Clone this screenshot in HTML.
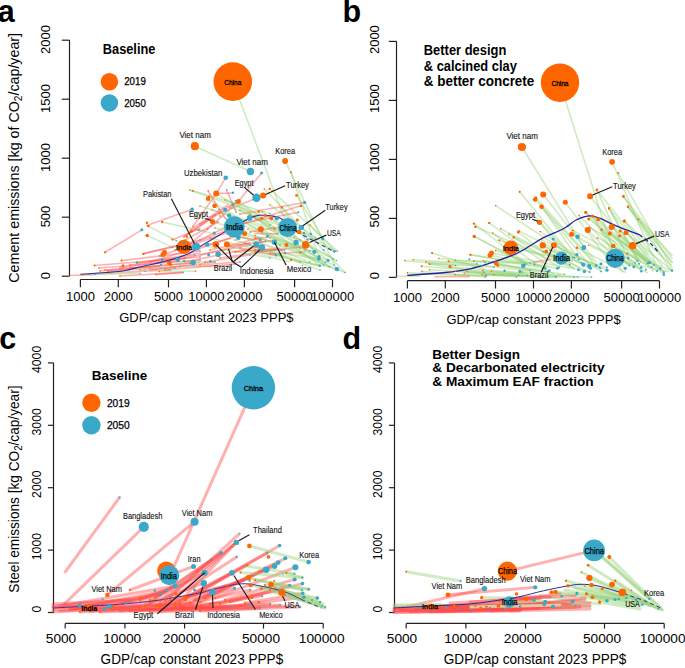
<!DOCTYPE html>
<html><head><meta charset="utf-8"><style>
html,body{margin:0;padding:0;background:#fff;}
svg{display:block;}
text{font-family:"Liberation Sans",sans-serif;}
</style></head><body>
<svg width="685" height="668" viewBox="0 0 685 668">
<rect width="685" height="668" fill="#fff"/>
<line x1="69.5" y1="276.2" x2="69.5" y2="40.0" stroke="#222" stroke-width="1.2" />
<line x1="61.8" y1="276.2" x2="69.5" y2="276.2" stroke="#222" stroke-width="1.2" />
<text x="50.1" y="275.5" font-size="13" font-family="Liberation Sans, sans-serif" font-weight="normal" text-anchor="middle" transform="rotate(-90 50.1 275.5)" fill="#000">0</text>
<line x1="61.8" y1="217.2" x2="69.5" y2="217.2" stroke="#222" stroke-width="1.2" />
<text x="50.1" y="216.5" font-size="13" font-family="Liberation Sans, sans-serif" font-weight="normal" text-anchor="middle" transform="rotate(-90 50.1 216.5)" fill="#000">500</text>
<line x1="61.8" y1="158.2" x2="69.5" y2="158.2" stroke="#222" stroke-width="1.2" />
<text x="50.1" y="157.5" font-size="13" font-family="Liberation Sans, sans-serif" font-weight="normal" text-anchor="middle" transform="rotate(-90 50.1 157.5)" fill="#000">1000</text>
<line x1="61.8" y1="99.2" x2="69.5" y2="99.2" stroke="#222" stroke-width="1.2" />
<text x="50.1" y="98.5" font-size="13" font-family="Liberation Sans, sans-serif" font-weight="normal" text-anchor="middle" transform="rotate(-90 50.1 98.5)" fill="#000">1500</text>
<line x1="61.8" y1="40.2" x2="69.5" y2="40.2" stroke="#222" stroke-width="1.2" />
<text x="50.1" y="39.5" font-size="13" font-family="Liberation Sans, sans-serif" font-weight="normal" text-anchor="middle" transform="rotate(-90 50.1 39.5)" fill="#000">2000</text>
<line x1="80.4" y1="279.5" x2="332.5" y2="279.5" stroke="#222" stroke-width="1.2" />
<line x1="80.4" y1="279.5" x2="80.4" y2="287.3" stroke="#222" stroke-width="1.2" />
<text x="80.4" y="301.1" font-size="13" font-family="Liberation Sans, sans-serif" font-weight="normal" text-anchor="middle" fill="#000">1000</text>
<line x1="118.3" y1="279.5" x2="118.3" y2="287.3" stroke="#222" stroke-width="1.2" />
<text x="118.3" y="301.1" font-size="13" font-family="Liberation Sans, sans-serif" font-weight="normal" text-anchor="middle" fill="#000">2000</text>
<line x1="168.5" y1="279.5" x2="168.5" y2="287.3" stroke="#222" stroke-width="1.2" />
<text x="168.5" y="301.1" font-size="13" font-family="Liberation Sans, sans-serif" font-weight="normal" text-anchor="middle" fill="#000">5000</text>
<line x1="206.4" y1="279.5" x2="206.4" y2="287.3" stroke="#222" stroke-width="1.2" />
<text x="206.4" y="301.1" font-size="13" font-family="Liberation Sans, sans-serif" font-weight="normal" text-anchor="middle" fill="#000">10000</text>
<line x1="244.4" y1="279.5" x2="244.4" y2="287.3" stroke="#222" stroke-width="1.2" />
<text x="244.4" y="301.1" font-size="13" font-family="Liberation Sans, sans-serif" font-weight="normal" text-anchor="middle" fill="#000">20000</text>
<line x1="294.6" y1="279.5" x2="294.6" y2="287.3" stroke="#222" stroke-width="1.2" />
<text x="294.6" y="301.1" font-size="13" font-family="Liberation Sans, sans-serif" font-weight="normal" text-anchor="middle" fill="#000">50000</text>
<line x1="332.5" y1="279.5" x2="332.5" y2="287.3" stroke="#222" stroke-width="1.2" />
<text x="332.5" y="301.1" font-size="13" font-family="Liberation Sans, sans-serif" font-weight="normal" text-anchor="middle" fill="#000">100000</text>
<text x="206.4" y="322.3" font-size="13.5" font-family="Liberation Sans, sans-serif" font-weight="normal" text-anchor="middle" textLength="174.2" lengthAdjust="spacingAndGlyphs" fill="#000">GDP/cap constant 2023 PPP$</text>
<line x1="396.5" y1="277.4" x2="396.5" y2="41.2" stroke="#222" stroke-width="1.2" />
<line x1="388.8" y1="277.4" x2="396.5" y2="277.4" stroke="#222" stroke-width="1.2" />
<text x="379.1" y="275.6" font-size="13" font-family="Liberation Sans, sans-serif" font-weight="normal" text-anchor="middle" transform="rotate(-90 379.1 275.6)" fill="#000">0</text>
<line x1="388.8" y1="218.4" x2="396.5" y2="218.4" stroke="#222" stroke-width="1.2" />
<text x="379.1" y="216.6" font-size="13" font-family="Liberation Sans, sans-serif" font-weight="normal" text-anchor="middle" transform="rotate(-90 379.1 216.6)" fill="#000">500</text>
<line x1="388.8" y1="159.4" x2="396.5" y2="159.4" stroke="#222" stroke-width="1.2" />
<text x="379.1" y="157.6" font-size="13" font-family="Liberation Sans, sans-serif" font-weight="normal" text-anchor="middle" transform="rotate(-90 379.1 157.6)" fill="#000">1000</text>
<line x1="388.8" y1="100.4" x2="396.5" y2="100.4" stroke="#222" stroke-width="1.2" />
<text x="379.1" y="98.6" font-size="13" font-family="Liberation Sans, sans-serif" font-weight="normal" text-anchor="middle" transform="rotate(-90 379.1 98.6)" fill="#000">1500</text>
<line x1="388.8" y1="41.4" x2="396.5" y2="41.4" stroke="#222" stroke-width="1.2" />
<text x="379.1" y="39.6" font-size="13" font-family="Liberation Sans, sans-serif" font-weight="normal" text-anchor="middle" transform="rotate(-90 379.1 39.6)" fill="#000">2000</text>
<line x1="407.4" y1="280.7" x2="659.5" y2="280.7" stroke="#222" stroke-width="1.2" />
<line x1="407.4" y1="280.7" x2="407.4" y2="288.5" stroke="#222" stroke-width="1.2" />
<text x="407.4" y="302.3" font-size="13" font-family="Liberation Sans, sans-serif" font-weight="normal" text-anchor="middle" fill="#000">1000</text>
<line x1="445.3" y1="280.7" x2="445.3" y2="288.5" stroke="#222" stroke-width="1.2" />
<text x="445.3" y="302.3" font-size="13" font-family="Liberation Sans, sans-serif" font-weight="normal" text-anchor="middle" fill="#000">2000</text>
<line x1="495.5" y1="280.7" x2="495.5" y2="288.5" stroke="#222" stroke-width="1.2" />
<text x="495.5" y="302.3" font-size="13" font-family="Liberation Sans, sans-serif" font-weight="normal" text-anchor="middle" fill="#000">5000</text>
<line x1="533.5" y1="280.7" x2="533.5" y2="288.5" stroke="#222" stroke-width="1.2" />
<text x="533.5" y="302.3" font-size="13" font-family="Liberation Sans, sans-serif" font-weight="normal" text-anchor="middle" fill="#000">10000</text>
<line x1="571.4" y1="280.7" x2="571.4" y2="288.5" stroke="#222" stroke-width="1.2" />
<text x="571.4" y="302.3" font-size="13" font-family="Liberation Sans, sans-serif" font-weight="normal" text-anchor="middle" fill="#000">20000</text>
<line x1="621.6" y1="280.7" x2="621.6" y2="288.5" stroke="#222" stroke-width="1.2" />
<text x="621.6" y="302.3" font-size="13" font-family="Liberation Sans, sans-serif" font-weight="normal" text-anchor="middle" fill="#000">50000</text>
<line x1="659.5" y1="280.7" x2="659.5" y2="288.5" stroke="#222" stroke-width="1.2" />
<text x="659.5" y="302.3" font-size="13" font-family="Liberation Sans, sans-serif" font-weight="normal" text-anchor="middle" fill="#000">100000</text>
<text x="533.5" y="323.5" font-size="13.5" font-family="Liberation Sans, sans-serif" font-weight="normal" text-anchor="middle" textLength="174.2" lengthAdjust="spacingAndGlyphs" fill="#000">GDP/cap constant 2023 PPP$</text>
<line x1="53.5" y1="612.5" x2="53.5" y2="362.9" stroke="#222" stroke-width="1.2" />
<line x1="47.9" y1="612.5" x2="53.5" y2="612.5" stroke="#222" stroke-width="1.2" />
<text x="40.9" y="609.0" font-size="12.3" font-family="Liberation Sans, sans-serif" font-weight="normal" text-anchor="middle" transform="rotate(-90 40.9 609.0)" fill="#000">0</text>
<line x1="47.9" y1="550.1" x2="53.5" y2="550.1" stroke="#222" stroke-width="1.2" />
<text x="40.9" y="546.6" font-size="12.3" font-family="Liberation Sans, sans-serif" font-weight="normal" text-anchor="middle" transform="rotate(-90 40.9 546.6)" fill="#000">1000</text>
<line x1="47.9" y1="487.7" x2="53.5" y2="487.7" stroke="#222" stroke-width="1.2" />
<text x="40.9" y="484.2" font-size="12.3" font-family="Liberation Sans, sans-serif" font-weight="normal" text-anchor="middle" transform="rotate(-90 40.9 484.2)" fill="#000">2000</text>
<line x1="47.9" y1="425.3" x2="53.5" y2="425.3" stroke="#222" stroke-width="1.2" />
<text x="40.9" y="421.8" font-size="12.3" font-family="Liberation Sans, sans-serif" font-weight="normal" text-anchor="middle" transform="rotate(-90 40.9 421.8)" fill="#000">3000</text>
<line x1="47.9" y1="362.9" x2="53.5" y2="362.9" stroke="#222" stroke-width="1.2" />
<text x="40.9" y="359.4" font-size="12.3" font-family="Liberation Sans, sans-serif" font-weight="normal" text-anchor="middle" transform="rotate(-90 40.9 359.4)" fill="#000">4000</text>
<line x1="65.2" y1="623.4" x2="323.2" y2="623.4" stroke="#222" stroke-width="1.2" />
<line x1="65.2" y1="623.4" x2="65.2" y2="628.6" stroke="#222" stroke-width="1.2" />
<text x="61.0" y="643.2" font-size="13.7" font-family="Liberation Sans, sans-serif" font-weight="normal" text-anchor="middle" fill="#000">5000</text>
<line x1="124.9" y1="623.4" x2="124.9" y2="628.6" stroke="#222" stroke-width="1.2" />
<text x="122.2" y="643.2" font-size="13.7" font-family="Liberation Sans, sans-serif" font-weight="normal" text-anchor="middle" fill="#000">10000</text>
<line x1="184.6" y1="623.4" x2="184.6" y2="628.6" stroke="#222" stroke-width="1.2" />
<text x="181.9" y="643.2" font-size="13.7" font-family="Liberation Sans, sans-serif" font-weight="normal" text-anchor="middle" fill="#000">20000</text>
<line x1="263.5" y1="623.4" x2="263.5" y2="628.6" stroke="#222" stroke-width="1.2" />
<text x="261.0" y="643.2" font-size="13.7" font-family="Liberation Sans, sans-serif" font-weight="normal" text-anchor="middle" fill="#000">50000</text>
<line x1="323.2" y1="623.4" x2="323.2" y2="628.6" stroke="#222" stroke-width="1.2" />
<text x="321.7" y="643.2" font-size="13.7" font-family="Liberation Sans, sans-serif" font-weight="normal" text-anchor="middle" fill="#000">100000</text>
<text x="191.9" y="664.3" font-size="14" font-family="Liberation Sans, sans-serif" font-weight="normal" text-anchor="middle" textLength="182.6" lengthAdjust="spacingAndGlyphs" fill="#000">GDP/cap constant 2023 PPP$</text>
<line x1="394.5" y1="612.5" x2="394.5" y2="362.9" stroke="#222" stroke-width="1.2" />
<line x1="388.9" y1="612.5" x2="394.5" y2="612.5" stroke="#222" stroke-width="1.2" />
<text x="381.9" y="609.0" font-size="12.3" font-family="Liberation Sans, sans-serif" font-weight="normal" text-anchor="middle" transform="rotate(-90 381.9 609.0)" fill="#000">0</text>
<line x1="388.9" y1="550.1" x2="394.5" y2="550.1" stroke="#222" stroke-width="1.2" />
<text x="381.9" y="546.6" font-size="12.3" font-family="Liberation Sans, sans-serif" font-weight="normal" text-anchor="middle" transform="rotate(-90 381.9 546.6)" fill="#000">1000</text>
<line x1="388.9" y1="487.7" x2="394.5" y2="487.7" stroke="#222" stroke-width="1.2" />
<text x="381.9" y="484.2" font-size="12.3" font-family="Liberation Sans, sans-serif" font-weight="normal" text-anchor="middle" transform="rotate(-90 381.9 484.2)" fill="#000">2000</text>
<line x1="388.9" y1="425.3" x2="394.5" y2="425.3" stroke="#222" stroke-width="1.2" />
<text x="381.9" y="421.8" font-size="12.3" font-family="Liberation Sans, sans-serif" font-weight="normal" text-anchor="middle" transform="rotate(-90 381.9 421.8)" fill="#000">3000</text>
<line x1="388.9" y1="362.9" x2="394.5" y2="362.9" stroke="#222" stroke-width="1.2" />
<text x="381.9" y="359.4" font-size="12.3" font-family="Liberation Sans, sans-serif" font-weight="normal" text-anchor="middle" transform="rotate(-90 381.9 359.4)" fill="#000">4000</text>
<line x1="406.2" y1="623.4" x2="664.2" y2="623.4" stroke="#222" stroke-width="1.2" />
<line x1="406.2" y1="623.4" x2="406.2" y2="628.6" stroke="#222" stroke-width="1.2" />
<text x="402.0" y="643.2" font-size="13.7" font-family="Liberation Sans, sans-serif" font-weight="normal" text-anchor="middle" fill="#000">5000</text>
<line x1="465.9" y1="623.4" x2="465.9" y2="628.6" stroke="#222" stroke-width="1.2" />
<text x="463.2" y="643.2" font-size="13.7" font-family="Liberation Sans, sans-serif" font-weight="normal" text-anchor="middle" fill="#000">10000</text>
<line x1="525.6" y1="623.4" x2="525.6" y2="628.6" stroke="#222" stroke-width="1.2" />
<text x="522.9" y="643.2" font-size="13.7" font-family="Liberation Sans, sans-serif" font-weight="normal" text-anchor="middle" fill="#000">20000</text>
<line x1="604.5" y1="623.4" x2="604.5" y2="628.6" stroke="#222" stroke-width="1.2" />
<text x="602.0" y="643.2" font-size="13.7" font-family="Liberation Sans, sans-serif" font-weight="normal" text-anchor="middle" fill="#000">50000</text>
<line x1="664.2" y1="623.4" x2="664.2" y2="628.6" stroke="#222" stroke-width="1.2" />
<text x="662.7" y="643.2" font-size="13.7" font-family="Liberation Sans, sans-serif" font-weight="normal" text-anchor="middle" fill="#000">100000</text>
<text x="535.1" y="664.3" font-size="14" font-family="Liberation Sans, sans-serif" font-weight="normal" text-anchor="middle" textLength="182.6" lengthAdjust="spacingAndGlyphs" fill="#000">GDP/cap constant 2023 PPP$</text>
<text x="19.4" y="157.8" font-size="14" font-family="Liberation Sans, sans-serif" text-anchor="middle" transform="rotate(-90 19.4 157.8)" textLength="249.8" lengthAdjust="spacingAndGlyphs">Cement emissions [kg of CO<tspan font-size="10" dy="3">2</tspan><tspan dy="-3">/cap/year]</tspan></text>
<text x="19.2" y="489.1" font-size="14" font-family="Liberation Sans, sans-serif" text-anchor="middle" transform="rotate(-90 19.2 489.1)" textLength="207.2" lengthAdjust="spacingAndGlyphs">Steel emissions [kg CO<tspan font-size="10" dy="3">2</tspan><tspan dy="-3">/cap/year]</tspan></text>
<text x="-2.2" y="22.0" font-size="30.5" font-family="Liberation Sans, sans-serif" font-weight="bold" text-anchor="start" fill="#000">a</text>
<text x="342.4" y="21.7" font-size="30.5" font-family="Liberation Sans, sans-serif" font-weight="bold" text-anchor="start" fill="#000">b</text>
<text x="-0.8" y="349.3" font-size="30.5" font-family="Liberation Sans, sans-serif" font-weight="bold" text-anchor="start" fill="#000">c</text>
<text x="342.6" y="348.8" font-size="30.5" font-family="Liberation Sans, sans-serif" font-weight="bold" text-anchor="start" fill="#000">d</text>
<text x="102.8" y="54.2" font-size="14" font-family="Liberation Sans, sans-serif" font-weight="bold" text-anchor="start" textLength="52.6" lengthAdjust="spacingAndGlyphs" fill="#000">Baseline</text>
<circle cx="109.4" cy="81.7" r="8.75" fill="#FF6600"/>
<circle cx="109.4" cy="102.9" r="8.75" fill="#3AA8C8"/>
<text x="124.2" y="85.1" font-size="10.1" font-family="Liberation Sans, sans-serif" font-weight="normal" text-anchor="start" textLength="21.6" lengthAdjust="spacingAndGlyphs" fill="#000" stroke="#000" stroke-width="0.25">2019</text>
<text x="124.2" y="106.6" font-size="10.1" font-family="Liberation Sans, sans-serif" font-weight="normal" text-anchor="start" textLength="21.6" lengthAdjust="spacingAndGlyphs" fill="#000" stroke="#000" stroke-width="0.25">2050</text>
<text x="423.8" y="55.2" font-size="14" font-family="Liberation Sans, sans-serif" font-weight="bold" text-anchor="start" textLength="82.5" lengthAdjust="spacingAndGlyphs" fill="#000">Better design</text>
<text x="423.8" y="70.5" font-size="14" font-family="Liberation Sans, sans-serif" font-weight="bold" text-anchor="start" textLength="93.0" lengthAdjust="spacingAndGlyphs" fill="#000">&amp; calcined clay</text>
<text x="423.8" y="85.8" font-size="14" font-family="Liberation Sans, sans-serif" font-weight="bold" text-anchor="start" textLength="110.5" lengthAdjust="spacingAndGlyphs" fill="#000">&amp; better concrete</text>
<text x="91.8" y="379.7" font-size="13" font-family="Liberation Sans, sans-serif" font-weight="bold" text-anchor="start" textLength="55.5" lengthAdjust="spacingAndGlyphs" fill="#000">Baseline</text>
<circle cx="91.4" cy="402.8" r="9.20" fill="#FF6600"/>
<circle cx="91.4" cy="425.3" r="9.20" fill="#3AA8C8"/>
<text x="106.9" y="406.7" font-size="10.2" font-family="Liberation Sans, sans-serif" font-weight="normal" text-anchor="start" textLength="22.8" lengthAdjust="spacingAndGlyphs" fill="#000" stroke="#000" stroke-width="0.25">2019</text>
<text x="106.9" y="428.9" font-size="10.2" font-family="Liberation Sans, sans-serif" font-weight="normal" text-anchor="start" textLength="22.8" lengthAdjust="spacingAndGlyphs" fill="#000" stroke="#000" stroke-width="0.25">2050</text>
<text x="432.3" y="359.0" font-size="12.5" font-family="Liberation Sans, sans-serif" font-weight="bold" text-anchor="start" textLength="87.8" lengthAdjust="spacingAndGlyphs" fill="#000">Better Design</text>
<text x="432.3" y="372.3" font-size="12.5" font-family="Liberation Sans, sans-serif" font-weight="bold" text-anchor="start" textLength="172.2" lengthAdjust="spacingAndGlyphs" fill="#000">&amp; Decarbonated electricity</text>
<text x="432.3" y="385.8" font-size="12.5" font-family="Liberation Sans, sans-serif" font-weight="bold" text-anchor="start" textLength="161.4" lengthAdjust="spacingAndGlyphs" fill="#000">&amp; Maximum EAF fraction</text>
<line x1="232.8" y1="81.6" x2="287.7" y2="227.5" stroke="rgba(150,210,120,0.45)" stroke-width="1.6" stroke-linecap="round"/>
<line x1="194.9" y1="146.2" x2="250.4" y2="171.5" stroke="rgba(150,210,120,0.45)" stroke-width="1.6" stroke-linecap="round"/>
<line x1="285.1" y1="160.7" x2="336.2" y2="268.4" stroke="rgba(150,210,120,0.45)" stroke-width="1.6" stroke-linecap="round"/>
<line x1="216.2" y1="193.6" x2="225.7" y2="177.8" stroke="rgba(255,70,70,0.42)" stroke-width="1.6" stroke-linecap="round"/>
<line x1="193.0" y1="226.5" x2="216.2" y2="193.6" stroke="rgba(255,70,70,0.42)" stroke-width="1.6" stroke-linecap="round"/>
<line x1="261.7" y1="173.0" x2="238.3" y2="201.4" stroke="rgba(255,70,70,0.42)" stroke-width="1.6" stroke-linecap="round"/>
<line x1="238.3" y1="201.4" x2="207.6" y2="229.1" stroke="rgba(255,70,70,0.42)" stroke-width="1.6" stroke-linecap="round"/>
<line x1="207.6" y1="229.1" x2="190.0" y2="244.0" stroke="rgba(255,70,70,0.42)" stroke-width="1.6" stroke-linecap="round"/>
<line x1="252.9" y1="199.6" x2="219.4" y2="213.4" stroke="rgba(255,70,70,0.42)" stroke-width="1.6" stroke-linecap="round"/>
<line x1="219.4" y1="213.4" x2="185.0" y2="236.0" stroke="rgba(255,70,70,0.42)" stroke-width="1.6" stroke-linecap="round"/>
<line x1="105.1" y1="252.3" x2="141.9" y2="229.9" stroke="rgba(255,70,70,0.42)" stroke-width="1.6" stroke-linecap="round"/>
<line x1="146.9" y1="225.5" x2="191.5" y2="209.4" stroke="rgba(255,70,70,0.42)" stroke-width="1.6" stroke-linecap="round"/>
<line x1="162.4" y1="222.1" x2="200.0" y2="230.3" stroke="rgba(150,210,120,0.45)" stroke-width="1.6" stroke-linecap="round"/>
<line x1="200.0" y1="230.3" x2="215.0" y2="234.0" stroke="rgba(150,210,120,0.45)" stroke-width="1.6" stroke-linecap="round"/>
<line x1="147.8" y1="225.9" x2="176.3" y2="240.7" stroke="rgba(150,210,120,0.45)" stroke-width="1.6" stroke-linecap="round"/>
<line x1="147.4" y1="235.6" x2="172.5" y2="247.4" stroke="rgba(150,210,120,0.45)" stroke-width="1.6" stroke-linecap="round"/>
<line x1="192.7" y1="190.8" x2="270.0" y2="213.4" stroke="rgba(150,210,120,0.45)" stroke-width="1.6" stroke-linecap="round"/>
<line x1="216.1" y1="193.6" x2="270.0" y2="225.0" stroke="rgba(150,210,120,0.45)" stroke-width="1.6" stroke-linecap="round"/>
<line x1="208.0" y1="199.0" x2="262.0" y2="232.0" stroke="rgba(150,210,120,0.45)" stroke-width="1.6" stroke-linecap="round"/>
<line x1="70.0" y1="275.5" x2="95.0" y2="274.5" stroke="rgba(255,70,70,0.42)" stroke-width="1.6" stroke-linecap="round"/>
<line x1="94.3" y1="265.5" x2="200.0" y2="257.0" stroke="rgba(255,70,70,0.42)" stroke-width="1.6" stroke-linecap="round"/>
<line x1="99.0" y1="268.0" x2="200.0" y2="260.0" stroke="rgba(255,70,70,0.42)" stroke-width="1.6" stroke-linecap="round"/>
<line x1="105.0" y1="270.0" x2="190.0" y2="263.5" stroke="rgba(255,70,70,0.42)" stroke-width="1.6" stroke-linecap="round"/>
<line x1="107.7" y1="271.0" x2="180.0" y2="266.5" stroke="rgba(255,70,70,0.42)" stroke-width="1.6" stroke-linecap="round"/>
<line x1="120.0" y1="276.0" x2="183.0" y2="272.4" stroke="rgba(255,70,70,0.42)" stroke-width="1.6" stroke-linecap="round"/>
<line x1="121.5" y1="260.6" x2="200.0" y2="251.0" stroke="rgba(255,70,70,0.42)" stroke-width="1.6" stroke-linecap="round"/>
<line x1="143.5" y1="253.8" x2="176.8" y2="246.1" stroke="rgba(255,70,70,0.42)" stroke-width="1.6" stroke-linecap="round"/>
<line x1="143.1" y1="253.6" x2="200.0" y2="240.0" stroke="rgba(255,70,70,0.42)" stroke-width="1.6" stroke-linecap="round"/>
<line x1="140.0" y1="262.5" x2="200.0" y2="253.0" stroke="rgba(255,70,70,0.42)" stroke-width="1.6" stroke-linecap="round"/>
<line x1="130.0" y1="268.0" x2="200.0" y2="262.0" stroke="rgba(255,70,70,0.42)" stroke-width="1.6" stroke-linecap="round"/>
<line x1="110.0" y1="273.0" x2="170.0" y2="270.0" stroke="rgba(255,70,70,0.42)" stroke-width="1.6" stroke-linecap="round"/>
<line x1="155.8" y1="274.6" x2="182.9" y2="272.4" stroke="rgba(255,70,70,0.42)" stroke-width="1.6" stroke-linecap="round"/>
<line x1="172.5" y1="239.8" x2="200.0" y2="228.4" stroke="rgba(255,70,70,0.42)" stroke-width="1.6" stroke-linecap="round"/>
<line x1="183.9" y1="236.9" x2="215.0" y2="215.0" stroke="rgba(255,70,70,0.42)" stroke-width="1.6" stroke-linecap="round"/>
<line x1="200.0" y1="240.0" x2="230.0" y2="225.0" stroke="rgba(255,70,70,0.42)" stroke-width="1.6" stroke-linecap="round"/>
<line x1="195.0" y1="250.0" x2="240.0" y2="235.0" stroke="rgba(255,70,70,0.42)" stroke-width="1.6" stroke-linecap="round"/>
<line x1="200.0" y1="255.0" x2="250.0" y2="245.0" stroke="rgba(255,70,70,0.42)" stroke-width="1.6" stroke-linecap="round"/>
<line x1="210.0" y1="250.0" x2="260.0" y2="238.0" stroke="rgba(255,70,70,0.42)" stroke-width="1.6" stroke-linecap="round"/>
<line x1="205.0" y1="262.0" x2="250.0" y2="255.0" stroke="rgba(255,70,70,0.42)" stroke-width="1.6" stroke-linecap="round"/>
<line x1="220.0" y1="258.0" x2="275.0" y2="250.0" stroke="rgba(255,70,70,0.42)" stroke-width="1.6" stroke-linecap="round"/>
<line x1="200.0" y1="265.0" x2="240.0" y2="262.0" stroke="rgba(255,70,70,0.42)" stroke-width="1.6" stroke-linecap="round"/>
<line x1="89.3" y1="274.4" x2="145.0" y2="271.0" stroke="#E0C8A8" stroke-width="1.6" stroke-linecap="round"/>
<line x1="80.6" y1="274.6" x2="140.0" y2="273.5" stroke="rgba(150,210,120,0.45)" stroke-width="1.6" stroke-linecap="round"/>
<line x1="159.3" y1="271.5" x2="195.2" y2="271.1" stroke="rgba(150,210,120,0.45)" stroke-width="1.6" stroke-linecap="round"/>
<line x1="140.0" y1="270.0" x2="175.0" y2="268.0" stroke="#E0C8A8" stroke-width="1.6" stroke-linecap="round"/>
<line x1="150.0" y1="268.0" x2="200.0" y2="266.0" stroke="rgba(150,210,120,0.45)" stroke-width="1.6" stroke-linecap="round"/>
<line x1="165.0" y1="262.0" x2="215.0" y2="262.0" stroke="rgba(150,210,120,0.45)" stroke-width="1.6" stroke-linecap="round"/>
<line x1="180.0" y1="266.0" x2="230.0" y2="266.0" stroke="#E0C8A8" stroke-width="1.6" stroke-linecap="round"/>
<line x1="264.3" y1="188.9" x2="345.0" y2="272.5" stroke="rgba(150,210,120,0.45)" stroke-width="1.6" stroke-linecap="round"/>
<line x1="272.1" y1="190.8" x2="337.2" y2="251.1" stroke="rgba(150,210,120,0.45)" stroke-width="1.6" stroke-linecap="round"/>
<line x1="240.0" y1="202.5" x2="329.4" y2="266.7" stroke="rgba(150,210,120,0.45)" stroke-width="1.6" stroke-linecap="round"/>
<line x1="240.0" y1="210.3" x2="333.3" y2="258.9" stroke="rgba(150,210,120,0.45)" stroke-width="1.6" stroke-linecap="round"/>
<line x1="240.0" y1="220.0" x2="323.6" y2="264.7" stroke="rgba(150,210,120,0.45)" stroke-width="1.6" stroke-linecap="round"/>
<line x1="250.0" y1="214.0" x2="319.7" y2="265.7" stroke="rgba(150,210,120,0.45)" stroke-width="1.6" stroke-linecap="round"/>
<line x1="255.0" y1="218.0" x2="325.6" y2="262.4" stroke="rgba(150,210,120,0.45)" stroke-width="1.6" stroke-linecap="round"/>
<line x1="262.0" y1="212.0" x2="328.5" y2="260.4" stroke="rgba(150,210,120,0.45)" stroke-width="1.6" stroke-linecap="round"/>
<line x1="270.0" y1="205.0" x2="334.7" y2="251.1" stroke="rgba(150,210,120,0.45)" stroke-width="1.6" stroke-linecap="round"/>
<line x1="281.8" y1="207.4" x2="313.9" y2="251.1" stroke="rgba(150,210,120,0.45)" stroke-width="1.6" stroke-linecap="round"/>
<line x1="296.5" y1="195.4" x2="323.6" y2="239.1" stroke="rgba(150,210,120,0.45)" stroke-width="1.6" stroke-linecap="round"/>
<line x1="291.1" y1="172.3" x2="318.7" y2="256.9" stroke="rgba(150,210,120,0.45)" stroke-width="1.6" stroke-linecap="round"/>
<line x1="230.0" y1="232.0" x2="310.0" y2="262.0" stroke="rgba(150,210,120,0.45)" stroke-width="1.6" stroke-linecap="round"/>
<line x1="235.0" y1="240.0" x2="300.0" y2="262.0" stroke="rgba(150,210,120,0.45)" stroke-width="1.6" stroke-linecap="round"/>
<line x1="225.0" y1="245.0" x2="290.0" y2="262.0" stroke="rgba(150,210,120,0.45)" stroke-width="1.6" stroke-linecap="round"/>
<line x1="245.0" y1="243.0" x2="320.0" y2="270.0" stroke="rgba(150,210,120,0.45)" stroke-width="1.6" stroke-linecap="round"/>
<line x1="210.0" y1="238.0" x2="280.0" y2="255.0" stroke="rgba(150,210,120,0.45)" stroke-width="1.6" stroke-linecap="round"/>
<line x1="215.0" y1="228.0" x2="300.0" y2="248.0" stroke="rgba(150,210,120,0.45)" stroke-width="1.6" stroke-linecap="round"/>
<line x1="205.0" y1="246.0" x2="270.0" y2="258.0" stroke="rgba(150,210,120,0.45)" stroke-width="1.6" stroke-linecap="round"/>
<line x1="260.0" y1="229.0" x2="305.0" y2="250.0" stroke="rgba(150,210,120,0.45)" stroke-width="1.6" stroke-linecap="round"/>
<line x1="248.0" y1="229.0" x2="295.0" y2="245.0" stroke="rgba(150,210,120,0.45)" stroke-width="1.6" stroke-linecap="round"/>
<line x1="238.0" y1="236.0" x2="282.0" y2="250.0" stroke="rgba(150,210,120,0.45)" stroke-width="1.6" stroke-linecap="round"/>
<line x1="240.0" y1="214.0" x2="304.6" y2="202.5" stroke="rgba(255,70,70,0.42)" stroke-width="1.6" stroke-linecap="round"/>
<line x1="240.0" y1="224.0" x2="298.3" y2="212.2" stroke="rgba(255,70,70,0.42)" stroke-width="1.6" stroke-linecap="round"/>
<line x1="230.0" y1="228.0" x2="300.0" y2="206.0" stroke="rgba(255,70,70,0.42)" stroke-width="1.6" stroke-linecap="round"/>
<line x1="250.0" y1="232.0" x2="285.0" y2="226.0" stroke="rgba(255,70,70,0.42)" stroke-width="1.6" stroke-linecap="round"/>
<line x1="230.0" y1="246.0" x2="276.0" y2="240.0" stroke="rgba(255,70,70,0.42)" stroke-width="1.6" stroke-linecap="round"/>
<line x1="235.0" y1="252.0" x2="280.0" y2="248.0" stroke="rgba(255,70,70,0.42)" stroke-width="1.6" stroke-linecap="round"/>
<line x1="255.0" y1="252.0" x2="300.0" y2="247.0" stroke="rgba(255,70,70,0.42)" stroke-width="1.6" stroke-linecap="round"/>
<line x1="270.0" y1="254.0" x2="305.0" y2="252.0" stroke="rgba(255,70,70,0.42)" stroke-width="1.6" stroke-linecap="round"/>
<line x1="291.1" y1="259.8" x2="328.6" y2="267.0" stroke="rgba(150,210,120,0.45)" stroke-width="1.6" stroke-linecap="round"/>
<line x1="255.0" y1="246.7" x2="319.4" y2="266.4" stroke="rgba(150,210,120,0.45)" stroke-width="1.6" stroke-linecap="round"/>
<line x1="255.0" y1="251.3" x2="320.7" y2="265.7" stroke="rgba(150,210,120,0.45)" stroke-width="1.6" stroke-linecap="round"/>
<line x1="255.0" y1="235.5" x2="336.5" y2="269.7" stroke="rgba(150,210,120,0.45)" stroke-width="1.6" stroke-linecap="round"/>
<line x1="274.7" y1="242.1" x2="344.3" y2="272.3" stroke="rgba(150,210,120,0.45)" stroke-width="1.6" stroke-linecap="round"/>
<line x1="294.4" y1="236.8" x2="336.5" y2="260.5" stroke="rgba(150,210,120,0.45)" stroke-width="1.6" stroke-linecap="round"/>
<line x1="298.4" y1="230.3" x2="333.8" y2="251.3" stroke="rgba(150,210,120,0.45)" stroke-width="1.6" stroke-linecap="round"/>
<line x1="310.2" y1="225.0" x2="335.1" y2="251.3" stroke="rgba(150,210,120,0.45)" stroke-width="1.6" stroke-linecap="round"/>
<line x1="286.1" y1="245.0" x2="327.9" y2="260.2" stroke="rgba(150,210,120,0.45)" stroke-width="1.6" stroke-linecap="round"/>
<line x1="300.3" y1="252.6" x2="334.0" y2="265.0" stroke="rgba(150,210,120,0.45)" stroke-width="1.6" stroke-linecap="round"/>
<line x1="262.0" y1="250.0" x2="318.7" y2="258.9" stroke="rgba(150,210,120,0.45)" stroke-width="1.6" stroke-linecap="round"/>
<line x1="270.0" y1="238.0" x2="314.4" y2="251.9" stroke="rgba(150,210,120,0.45)" stroke-width="1.6" stroke-linecap="round"/>
<line x1="255.0" y1="233.5" x2="277.3" y2="233.9" stroke="rgba(255,70,70,0.42)" stroke-width="1.6" stroke-linecap="round"/>
<line x1="255.0" y1="238.1" x2="267.5" y2="237.5" stroke="rgba(255,70,70,0.42)" stroke-width="1.6" stroke-linecap="round"/>
<line x1="255.0" y1="243.4" x2="265.5" y2="241.4" stroke="rgba(255,70,70,0.42)" stroke-width="1.6" stroke-linecap="round"/>
<line x1="255.0" y1="249.7" x2="284.6" y2="250.0" stroke="rgba(255,70,70,0.42)" stroke-width="1.6" stroke-linecap="round"/>
<line x1="240.0" y1="248.0" x2="276.0" y2="255.2" stroke="rgba(255,70,70,0.42)" stroke-width="1.6" stroke-linecap="round"/>
<line x1="230.0" y1="236.0" x2="260.3" y2="240.1" stroke="rgba(255,70,70,0.42)" stroke-width="1.6" stroke-linecap="round"/>
<line x1="190.0" y1="190.0" x2="260.0" y2="215.0" stroke="rgba(150,210,120,0.45)" stroke-width="1.6" stroke-linecap="round"/>
<line x1="200.0" y1="206.0" x2="285.0" y2="232.0" stroke="rgba(150,210,120,0.45)" stroke-width="1.6" stroke-linecap="round"/>
<line x1="212.0" y1="210.0" x2="300.0" y2="240.0" stroke="rgba(150,210,120,0.45)" stroke-width="1.6" stroke-linecap="round"/>
<line x1="220.0" y1="216.0" x2="310.0" y2="251.0" stroke="rgba(150,210,120,0.45)" stroke-width="1.6" stroke-linecap="round"/>
<line x1="195.0" y1="215.0" x2="280.0" y2="245.0" stroke="rgba(150,210,120,0.45)" stroke-width="1.6" stroke-linecap="round"/>
<line x1="225.0" y1="200.0" x2="315.0" y2="238.0" stroke="rgba(150,210,120,0.45)" stroke-width="1.6" stroke-linecap="round"/>
<line x1="230.0" y1="207.0" x2="305.0" y2="235.0" stroke="rgba(150,210,120,0.45)" stroke-width="1.6" stroke-linecap="round"/>
<line x1="150.0" y1="262.0" x2="230.0" y2="238.0" stroke="rgba(255,70,70,0.42)" stroke-width="1.6" stroke-linecap="round"/>
<line x1="160.0" y1="256.0" x2="235.0" y2="230.0" stroke="rgba(255,70,70,0.42)" stroke-width="1.6" stroke-linecap="round"/>
<line x1="170.0" y1="262.0" x2="250.0" y2="243.0" stroke="rgba(255,70,70,0.42)" stroke-width="1.6" stroke-linecap="round"/>
<line x1="175.0" y1="250.0" x2="225.0" y2="231.0" stroke="rgba(255,70,70,0.42)" stroke-width="1.6" stroke-linecap="round"/>
<line x1="185.0" y1="262.0" x2="262.0" y2="246.0" stroke="rgba(255,70,70,0.42)" stroke-width="1.6" stroke-linecap="round"/>
<line x1="120.0" y1="268.0" x2="185.0" y2="258.0" stroke="rgba(255,70,70,0.42)" stroke-width="1.6" stroke-linecap="round"/>
<line x1="100.0" y1="271.0" x2="160.0" y2="266.0" stroke="rgba(255,70,70,0.42)" stroke-width="1.6" stroke-linecap="round"/>
<line x1="130.0" y1="265.0" x2="195.0" y2="255.0" stroke="rgba(255,70,70,0.42)" stroke-width="1.6" stroke-linecap="round"/>
<line x1="150.0" y1="270.0" x2="215.0" y2="262.0" stroke="rgba(255,70,70,0.42)" stroke-width="1.6" stroke-linecap="round"/>
<line x1="165.0" y1="270.0" x2="235.0" y2="264.0" stroke="rgba(255,70,70,0.42)" stroke-width="1.6" stroke-linecap="round"/>
<line x1="185.0" y1="240.0" x2="218.0" y2="222.0" stroke="rgba(255,70,70,0.42)" stroke-width="1.6" stroke-linecap="round"/>
<line x1="190.0" y1="230.0" x2="228.0" y2="205.0" stroke="rgba(255,70,70,0.42)" stroke-width="1.6" stroke-linecap="round"/>
<line x1="200.0" y1="224.0" x2="240.0" y2="200.0" stroke="rgba(255,70,70,0.42)" stroke-width="1.6" stroke-linecap="round"/>
<line x1="216.1" y1="193.6" x2="231.2" y2="193.0" stroke="rgba(255,70,70,0.42)" stroke-width="1.6" stroke-linecap="round"/>
<line x1="208.2" y1="191.0" x2="219.4" y2="209.4" stroke="rgba(255,70,70,0.42)" stroke-width="1.6" stroke-linecap="round"/>
<line x1="226.6" y1="189.8" x2="236.0" y2="212.0" stroke="rgba(255,70,70,0.42)" stroke-width="1.6" stroke-linecap="round"/>
<line x1="219.4" y1="209.4" x2="228.0" y2="222.0" stroke="rgba(255,70,70,0.42)" stroke-width="1.6" stroke-linecap="round"/>
<path d="M80.5,274.3 C84.8,274.0 98.8,273.1 106.0,272.5 C113.2,271.9 118.0,271.7 124.0,270.7 C130.0,269.7 134.5,268.2 142.0,266.5 C149.5,264.8 161.2,262.6 169.0,260.4 C176.8,258.2 183.3,256.0 189.0,253.4 C194.7,250.8 197.8,247.7 203.0,244.6 C208.2,241.5 214.7,237.8 220.0,234.7 C225.3,231.6 230.9,228.3 235.0,226.0 C239.1,223.7 241.0,222.6 244.3,220.9 C247.6,219.2 252.0,217.0 255.0,216.1 C258.0,215.2 259.5,215.3 262.3,215.3 C265.1,215.3 269.1,215.6 272.0,216.0 C274.9,216.4 277.0,216.5 280.0,218.0 C283.0,219.5 287.2,222.7 290.0,225.0 C292.8,227.3 295.8,230.8 297.0,232.0" fill="none" stroke="#2d2a9c" stroke-width="1.1"/>
<path d="M297.0,232.0 C299.7,233.4 307.6,237.7 313.0,240.5 C318.4,243.3 325.6,247.2 329.3,249.1 C333.0,251.0 334.1,251.6 335.0,252.1" fill="none" stroke="#2d2a9c" stroke-width="1.1" stroke-dasharray="4,3"/>
<circle cx="194.9" cy="146.2" r="4.10" fill="#FF6600"/>
<circle cx="250.4" cy="171.5" r="3.70" fill="#3AA8C8"/>
<circle cx="285.1" cy="161.0" r="2.90" fill="#FF6600"/>
<circle cx="225.7" cy="177.8" r="2.30" fill="#3AA8C8"/>
<circle cx="216.2" cy="193.6" r="3.00" fill="#FF6600"/>
<circle cx="261.7" cy="173.0" r="1.30" fill="#3AA8C8"/>
<circle cx="261.4" cy="172.9" r="1.20" fill="#3AA8C8"/>
<circle cx="238.3" cy="201.4" r="2.50" fill="#FF6600"/>
<circle cx="256.5" cy="197.8" r="4.20" fill="#3AA8C8"/>
<circle cx="263.1" cy="195.5" r="3.00" fill="#FF6600"/>
<circle cx="214.6" cy="205.9" r="2.20" fill="#FF6600"/>
<circle cx="208.1" cy="198.7" r="2.30" fill="#FF6600"/>
<circle cx="208.9" cy="197.0" r="1.50" fill="#FF6600"/>
<circle cx="214.5" cy="205.7" r="2.00" fill="#FF6600"/>
<circle cx="225.1" cy="209.8" r="2.00" fill="#3AA8C8"/>
<circle cx="232.9" cy="192.8" r="1.20" fill="#3AA8C8"/>
<circle cx="232.6" cy="204.7" r="1.30" fill="#3AA8C8"/>
<circle cx="235.9" cy="200.9" r="1.00" fill="#3AA8C8"/>
<circle cx="226.6" cy="189.8" r="0.80" fill="#3AA8C8"/>
<circle cx="105.1" cy="252.3" r="1.10" fill="#FF6600"/>
<circle cx="141.9" cy="229.9" r="1.40" fill="#3AA8C8"/>
<circle cx="147.0" cy="222.8" r="1.20" fill="#FF6600"/>
<circle cx="148.4" cy="226.0" r="1.30" fill="#FF6600"/>
<circle cx="147.2" cy="235.6" r="1.60" fill="#FF6600"/>
<circle cx="143.4" cy="253.9" r="1.00" fill="#FF6600"/>
<circle cx="123.0" cy="265.9" r="1.60" fill="#FF6600"/>
<circle cx="137.1" cy="262.6" r="1.30" fill="#3AA8C8"/>
<circle cx="94.6" cy="265.5" r="1.00" fill="#FF6600"/>
<circle cx="121.5" cy="260.5" r="1.00" fill="#FF6600"/>
<circle cx="192.1" cy="209.3" r="1.80" fill="#3AA8C8"/>
<circle cx="162.2" cy="222.1" r="1.20" fill="#FF6600"/>
<circle cx="141.8" cy="229.9" r="1.20" fill="#3AA8C8"/>
<circle cx="192.7" cy="191.0" r="1.10" fill="#FF6600"/>
<circle cx="212.5" cy="221.5" r="2.60" fill="#FF6600"/>
<circle cx="191.3" cy="231.3" r="1.50" fill="#FF6600"/>
<circle cx="186.7" cy="236.5" r="1.20" fill="#FF6600"/>
<circle cx="198.7" cy="229.9" r="1.00" fill="#3AA8C8"/>
<circle cx="214.3" cy="232.9" r="1.50" fill="#3AA8C8"/>
<circle cx="172.3" cy="239.5" r="1.00" fill="#FF6600"/>
<circle cx="229.1" cy="215.5" r="2.20" fill="#3AA8C8"/>
<circle cx="249.7" cy="217.9" r="2.80" fill="#3AA8C8"/>
<circle cx="260.8" cy="229.3" r="3.00" fill="#FF6600"/>
<circle cx="244.6" cy="233.5" r="2.50" fill="#FF6600"/>
<circle cx="238.3" cy="237.7" r="2.40" fill="#3AA8C8"/>
<circle cx="215.8" cy="244.4" r="3.00" fill="#FF6600"/>
<circle cx="226.9" cy="244.4" r="3.00" fill="#FF6600"/>
<circle cx="256.2" cy="244.4" r="3.00" fill="#3AA8C8"/>
<circle cx="261.8" cy="247.6" r="3.30" fill="#3AA8C8"/>
<circle cx="276.6" cy="218.5" r="2.00" fill="#3AA8C8"/>
<circle cx="271.3" cy="218.5" r="1.80" fill="#FF6600"/>
<circle cx="265.3" cy="215.3" r="1.50" fill="#FF6600"/>
<circle cx="261.7" cy="218.3" r="1.50" fill="#FF6600"/>
<circle cx="258.7" cy="211.7" r="1.30" fill="#FF6600"/>
<circle cx="291.1" cy="172.3" r="1.00" fill="#FF6600"/>
<circle cx="296.5" cy="195.4" r="1.30" fill="#FF6600"/>
<circle cx="269.8" cy="188.9" r="1.20" fill="#FF6600"/>
<circle cx="281.8" cy="207.4" r="1.00" fill="#FF6600"/>
<circle cx="301.1" cy="205.9" r="1.20" fill="#FF6600"/>
<circle cx="304.6" cy="202.5" r="1.50" fill="#3AA8C8"/>
<circle cx="298.3" cy="212.2" r="1.00" fill="#3AA8C8"/>
<circle cx="301.4" cy="227.5" r="2.60" fill="#3AA8C8"/>
<circle cx="299.1" cy="232.0" r="2.30" fill="#FF6600"/>
<circle cx="297.3" cy="220.1" r="1.50" fill="#FF6600"/>
<circle cx="296.0" cy="242.2" r="2.40" fill="#3AA8C8"/>
<circle cx="286.4" cy="245.1" r="2.00" fill="#FF6600"/>
<circle cx="274.4" cy="242.2" r="2.60" fill="#3AA8C8"/>
<circle cx="276.9" cy="218.2" r="2.00" fill="#3AA8C8"/>
<circle cx="314.3" cy="251.7" r="1.80" fill="#3AA8C8"/>
<circle cx="319.1" cy="258.4" r="1.50" fill="#3AA8C8"/>
<circle cx="328.4" cy="260.5" r="1.30" fill="#3AA8C8"/>
<circle cx="337.1" cy="269.2" r="2.00" fill="#3AA8C8"/>
<circle cx="322.7" cy="238.9" r="1.30" fill="#3AA8C8"/>
<circle cx="304.5" cy="202.4" r="1.30" fill="#3AA8C8"/>
<circle cx="291.0" cy="259.9" r="1.10" fill="#FF6600"/>
<circle cx="271.2" cy="218.6" r="1.80" fill="#FF6600"/>
<circle cx="282.0" cy="207.4" r="1.00" fill="#FF6600"/>
<circle cx="300.9" cy="206.0" r="1.00" fill="#FF6600"/>
<circle cx="183.8" cy="246.9" r="7.20" fill="#FF6600"/>
<circle cx="196.1" cy="246.7" r="4.00" fill="#3AA8C8"/>
<circle cx="183.8" cy="242.8" r="1.20" fill="#3AA8C8"/>
<circle cx="164.5" cy="252.2" r="2.50" fill="#FF6600"/>
<circle cx="163.0" cy="254.5" r="2.50" fill="#FF6600"/>
<circle cx="147.2" cy="235.6" r="1.50" fill="#FF6600"/>
<circle cx="177.6" cy="259.8" r="2.30" fill="#3AA8C8"/>
<circle cx="193.1" cy="262.5" r="2.80" fill="#3AA8C8"/>
<circle cx="207.2" cy="244.6" r="2.20" fill="#3AA8C8"/>
<circle cx="215.7" cy="244.6" r="3.00" fill="#FF6600"/>
<circle cx="218.2" cy="254.3" r="2.80" fill="#3AA8C8"/>
<circle cx="208.7" cy="254.8" r="1.50" fill="#3AA8C8"/>
<circle cx="210.4" cy="261.3" r="1.20" fill="#3AA8C8"/>
<circle cx="184.1" cy="260.9" r="1.20" fill="#3AA8C8"/>
<circle cx="162.2" cy="259.8" r="1.30" fill="#3AA8C8"/>
<circle cx="161.0" cy="264.8" r="1.10" fill="#3AA8C8"/>
<circle cx="169.2" cy="262.7" r="2.30" fill="#FF6600"/>
<circle cx="170.7" cy="264.5" r="1.50" fill="#FF6600"/>
<circle cx="143.5" cy="253.9" r="1.00" fill="#FF6600"/>
<circle cx="195.5" cy="271.2" r="0.80" fill="#FF6600"/>
<circle cx="305.6" cy="244.9" r="3.80" fill="#FF6600"/>
<circle cx="336.7" cy="269.0" r="2.00" fill="#3AA8C8"/>
<circle cx="327.9" cy="260.2" r="1.50" fill="#3AA8C8"/>
<circle cx="318.7" cy="258.9" r="1.80" fill="#3AA8C8"/>
<circle cx="319.1" cy="256.5" r="1.50" fill="#3AA8C8"/>
<circle cx="314.4" cy="251.9" r="2.00" fill="#3AA8C8"/>
<circle cx="319.8" cy="265.7" r="1.20" fill="#3AA8C8"/>
<circle cx="334.5" cy="251.3" r="1.30" fill="#3AA8C8"/>
<circle cx="323.6" cy="250.0" r="1.00" fill="#3AA8C8"/>
<circle cx="322.7" cy="238.8" r="1.50" fill="#3AA8C8"/>
<circle cx="276.0" cy="255.2" r="1.20" fill="#3AA8C8"/>
<circle cx="285.2" cy="253.2" r="1.00" fill="#3AA8C8"/>
<circle cx="296.1" cy="242.7" r="2.50" fill="#3AA8C8"/>
<circle cx="267.5" cy="236.2" r="1.50" fill="#3AA8C8"/>
<circle cx="260.3" cy="240.1" r="1.50" fill="#3AA8C8"/>
<circle cx="301.0" cy="227.6" r="2.50" fill="#3AA8C8"/>
<circle cx="303.9" cy="232.9" r="1.20" fill="#3AA8C8"/>
<circle cx="307.6" cy="239.5" r="1.20" fill="#3AA8C8"/>
<circle cx="310.8" cy="233.9" r="1.20" fill="#3AA8C8"/>
<circle cx="300.3" cy="252.6" r="1.00" fill="#FF6600"/>
<circle cx="274.4" cy="229.0" r="1.00" fill="#FF6600"/>
<circle cx="284.6" cy="252.6" r="0.80" fill="#FF6600"/>
<circle cx="232.8" cy="81.6" r="0.75" fill="#FF6600"/>
<circle cx="287.7" cy="227.5" r="0.75" fill="#3AA8C8"/>
<circle cx="193.0" cy="226.5" r="0.75" fill="#FF6600"/>
<circle cx="207.6" cy="229.1" r="0.75" fill="#FF6600"/>
<circle cx="190.0" cy="244.0" r="0.75" fill="#FF6600"/>
<circle cx="219.4" cy="213.4" r="0.75" fill="#FF6600"/>
<circle cx="252.9" cy="199.6" r="0.75" fill="#3AA8C8"/>
<circle cx="176.3" cy="240.7" r="0.75" fill="#3AA8C8"/>
<circle cx="172.5" cy="247.4" r="0.75" fill="#3AA8C8"/>
<circle cx="270.0" cy="213.4" r="0.75" fill="#3AA8C8"/>
<circle cx="270.0" cy="225.0" r="0.75" fill="#3AA8C8"/>
<circle cx="262.0" cy="232.0" r="0.75" fill="#3AA8C8"/>
<circle cx="95.0" cy="274.5" r="0.75" fill="#3AA8C8"/>
<circle cx="200.0" cy="257.0" r="0.75" fill="#3AA8C8"/>
<circle cx="99.0" cy="268.0" r="0.75" fill="#FF6600"/>
<circle cx="200.0" cy="260.0" r="0.75" fill="#3AA8C8"/>
<circle cx="105.0" cy="270.0" r="0.75" fill="#FF6600"/>
<circle cx="190.0" cy="263.5" r="0.75" fill="#3AA8C8"/>
<circle cx="107.7" cy="271.0" r="0.75" fill="#FF6600"/>
<circle cx="180.0" cy="266.5" r="0.75" fill="#3AA8C8"/>
<circle cx="120.0" cy="276.0" r="0.75" fill="#FF6600"/>
<circle cx="183.0" cy="272.4" r="0.75" fill="#3AA8C8"/>
<circle cx="200.0" cy="251.0" r="0.75" fill="#3AA8C8"/>
<circle cx="176.8" cy="246.1" r="0.75" fill="#3AA8C8"/>
<circle cx="200.0" cy="240.0" r="0.75" fill="#3AA8C8"/>
<circle cx="140.0" cy="262.5" r="0.75" fill="#FF6600"/>
<circle cx="130.0" cy="268.0" r="0.75" fill="#FF6600"/>
<circle cx="110.0" cy="273.0" r="0.75" fill="#FF6600"/>
<circle cx="170.0" cy="270.0" r="0.75" fill="#3AA8C8"/>
<circle cx="155.8" cy="274.6" r="0.75" fill="#FF6600"/>
<circle cx="183.9" cy="236.9" r="0.75" fill="#FF6600"/>
<circle cx="215.0" cy="215.0" r="0.75" fill="#3AA8C8"/>
<circle cx="230.0" cy="225.0" r="0.75" fill="#3AA8C8"/>
<circle cx="195.0" cy="250.0" r="0.75" fill="#FF6600"/>
<circle cx="240.0" cy="235.0" r="0.75" fill="#3AA8C8"/>
<circle cx="250.0" cy="245.0" r="0.75" fill="#3AA8C8"/>
<circle cx="210.0" cy="250.0" r="0.75" fill="#FF6600"/>
<circle cx="205.0" cy="262.0" r="0.75" fill="#FF6600"/>
<circle cx="250.0" cy="255.0" r="0.75" fill="#3AA8C8"/>
<circle cx="220.0" cy="258.0" r="0.75" fill="#FF6600"/>
<circle cx="275.0" cy="250.0" r="0.75" fill="#3AA8C8"/>
<circle cx="200.0" cy="265.0" r="0.75" fill="#FF6600"/>
<circle cx="240.0" cy="262.0" r="0.75" fill="#3AA8C8"/>
<circle cx="89.3" cy="274.4" r="0.75" fill="#FF6600"/>
<circle cx="145.0" cy="271.0" r="0.75" fill="#3AA8C8"/>
<circle cx="80.6" cy="274.6" r="0.75" fill="#FF6600"/>
<circle cx="140.0" cy="273.5" r="0.75" fill="#3AA8C8"/>
<circle cx="159.3" cy="271.5" r="0.75" fill="#FF6600"/>
<circle cx="140.0" cy="270.0" r="0.75" fill="#FF6600"/>
<circle cx="175.0" cy="268.0" r="0.75" fill="#3AA8C8"/>
<circle cx="150.0" cy="268.0" r="0.75" fill="#FF6600"/>
<circle cx="165.0" cy="262.0" r="0.75" fill="#FF6600"/>
<circle cx="215.0" cy="262.0" r="0.75" fill="#3AA8C8"/>
<circle cx="230.0" cy="266.0" r="0.75" fill="#3AA8C8"/>
<circle cx="264.3" cy="188.9" r="0.75" fill="#FF6600"/>
<circle cx="345.0" cy="272.5" r="0.75" fill="#3AA8C8"/>
<circle cx="272.1" cy="190.8" r="0.75" fill="#FF6600"/>
<circle cx="337.2" cy="251.1" r="0.75" fill="#3AA8C8"/>
<circle cx="329.4" cy="266.7" r="0.75" fill="#3AA8C8"/>
<circle cx="240.0" cy="210.3" r="0.75" fill="#FF6600"/>
<circle cx="333.3" cy="258.9" r="0.75" fill="#3AA8C8"/>
<circle cx="240.0" cy="220.0" r="0.75" fill="#FF6600"/>
<circle cx="323.6" cy="264.7" r="0.75" fill="#3AA8C8"/>
<circle cx="250.0" cy="214.0" r="0.75" fill="#FF6600"/>
<circle cx="255.0" cy="218.0" r="0.75" fill="#FF6600"/>
<circle cx="325.6" cy="262.4" r="0.75" fill="#3AA8C8"/>
<circle cx="262.0" cy="212.0" r="0.75" fill="#FF6600"/>
<circle cx="270.0" cy="205.0" r="0.75" fill="#FF6600"/>
<circle cx="230.0" cy="232.0" r="0.75" fill="#FF6600"/>
<circle cx="310.0" cy="262.0" r="0.75" fill="#3AA8C8"/>
<circle cx="235.0" cy="240.0" r="0.75" fill="#FF6600"/>
<circle cx="300.0" cy="262.0" r="0.75" fill="#3AA8C8"/>
<circle cx="245.0" cy="243.0" r="0.75" fill="#FF6600"/>
<circle cx="320.0" cy="270.0" r="0.75" fill="#3AA8C8"/>
<circle cx="210.0" cy="238.0" r="0.75" fill="#FF6600"/>
<circle cx="280.0" cy="255.0" r="0.75" fill="#3AA8C8"/>
<circle cx="215.0" cy="228.0" r="0.75" fill="#FF6600"/>
<circle cx="300.0" cy="248.0" r="0.75" fill="#3AA8C8"/>
<circle cx="270.0" cy="258.0" r="0.75" fill="#3AA8C8"/>
<circle cx="305.0" cy="250.0" r="0.75" fill="#3AA8C8"/>
<circle cx="248.0" cy="229.0" r="0.75" fill="#FF6600"/>
<circle cx="295.0" cy="245.0" r="0.75" fill="#3AA8C8"/>
<circle cx="282.0" cy="250.0" r="0.75" fill="#3AA8C8"/>
<circle cx="240.0" cy="214.0" r="0.75" fill="#FF6600"/>
<circle cx="240.0" cy="224.0" r="0.75" fill="#FF6600"/>
<circle cx="230.0" cy="228.0" r="0.75" fill="#FF6600"/>
<circle cx="250.0" cy="232.0" r="0.75" fill="#FF6600"/>
<circle cx="285.0" cy="226.0" r="0.75" fill="#3AA8C8"/>
<circle cx="230.0" cy="246.0" r="0.75" fill="#FF6600"/>
<circle cx="235.0" cy="252.0" r="0.75" fill="#FF6600"/>
<circle cx="255.0" cy="252.0" r="0.75" fill="#FF6600"/>
<circle cx="270.0" cy="254.0" r="0.75" fill="#FF6600"/>
<circle cx="255.0" cy="246.7" r="0.75" fill="#FF6600"/>
<circle cx="255.0" cy="235.5" r="0.75" fill="#FF6600"/>
<circle cx="294.4" cy="236.8" r="0.75" fill="#FF6600"/>
<circle cx="336.5" cy="260.5" r="0.75" fill="#3AA8C8"/>
<circle cx="310.2" cy="225.0" r="0.75" fill="#FF6600"/>
<circle cx="334.0" cy="265.0" r="0.75" fill="#3AA8C8"/>
<circle cx="262.0" cy="250.0" r="0.75" fill="#FF6600"/>
<circle cx="270.0" cy="238.0" r="0.75" fill="#FF6600"/>
<circle cx="277.3" cy="233.9" r="0.75" fill="#3AA8C8"/>
<circle cx="255.0" cy="238.1" r="0.75" fill="#FF6600"/>
<circle cx="265.5" cy="241.4" r="0.75" fill="#3AA8C8"/>
<circle cx="255.0" cy="249.7" r="0.75" fill="#FF6600"/>
<circle cx="284.6" cy="250.0" r="0.75" fill="#3AA8C8"/>
<circle cx="240.0" cy="248.0" r="0.75" fill="#FF6600"/>
<circle cx="230.0" cy="236.0" r="0.75" fill="#FF6600"/>
<circle cx="190.0" cy="190.0" r="0.75" fill="#FF6600"/>
<circle cx="260.0" cy="215.0" r="0.75" fill="#3AA8C8"/>
<circle cx="200.0" cy="206.0" r="0.75" fill="#FF6600"/>
<circle cx="285.0" cy="232.0" r="0.75" fill="#3AA8C8"/>
<circle cx="212.0" cy="210.0" r="0.75" fill="#FF6600"/>
<circle cx="300.0" cy="240.0" r="0.75" fill="#3AA8C8"/>
<circle cx="220.0" cy="216.0" r="0.75" fill="#FF6600"/>
<circle cx="310.0" cy="251.0" r="0.75" fill="#3AA8C8"/>
<circle cx="195.0" cy="215.0" r="0.75" fill="#FF6600"/>
<circle cx="280.0" cy="245.0" r="0.75" fill="#3AA8C8"/>
<circle cx="225.0" cy="200.0" r="0.75" fill="#FF6600"/>
<circle cx="315.0" cy="238.0" r="0.75" fill="#3AA8C8"/>
<circle cx="230.0" cy="207.0" r="0.75" fill="#FF6600"/>
<circle cx="150.0" cy="262.0" r="0.75" fill="#FF6600"/>
<circle cx="160.0" cy="256.0" r="0.75" fill="#FF6600"/>
<circle cx="235.0" cy="230.0" r="0.75" fill="#3AA8C8"/>
<circle cx="175.0" cy="250.0" r="0.75" fill="#FF6600"/>
<circle cx="225.0" cy="231.0" r="0.75" fill="#3AA8C8"/>
<circle cx="120.0" cy="268.0" r="0.75" fill="#FF6600"/>
<circle cx="185.0" cy="258.0" r="0.75" fill="#3AA8C8"/>
<circle cx="100.0" cy="271.0" r="0.75" fill="#FF6600"/>
<circle cx="130.0" cy="265.0" r="0.75" fill="#FF6600"/>
<circle cx="195.0" cy="255.0" r="0.75" fill="#3AA8C8"/>
<circle cx="165.0" cy="270.0" r="0.75" fill="#FF6600"/>
<circle cx="235.0" cy="264.0" r="0.75" fill="#3AA8C8"/>
<circle cx="185.0" cy="240.0" r="0.75" fill="#FF6600"/>
<circle cx="218.0" cy="222.0" r="0.75" fill="#3AA8C8"/>
<circle cx="200.0" cy="224.0" r="0.75" fill="#FF6600"/>
<circle cx="208.2" cy="191.0" r="0.75" fill="#FF6600"/>
<circle cx="219.4" cy="209.4" r="0.75" fill="#3AA8C8"/>
<circle cx="236.0" cy="212.0" r="0.75" fill="#3AA8C8"/>
<circle cx="228.0" cy="222.0" r="0.75" fill="#3AA8C8"/>
<line x1="171.4" y1="198.7" x2="194.5" y2="243.7" stroke="#1a1a1a" stroke-width="1.15" />
<line x1="244.3" y1="187.4" x2="253.5" y2="195.0" stroke="#1a1a1a" stroke-width="1.15" />
<line x1="285.1" y1="185.7" x2="265.5" y2="194.5" stroke="#1a1a1a" stroke-width="1.15" />
<line x1="205.3" y1="218.5" x2="210.7" y2="220.3" stroke="#1a1a1a" stroke-width="1.15" />
<line x1="302.9" y1="225.7" x2="325.3" y2="210.2" stroke="#1a1a1a" stroke-width="1.15" />
<line x1="309.5" y1="242.5" x2="326.3" y2="235.1" stroke="#1a1a1a" stroke-width="1.15" />
<line x1="274.4" y1="242.2" x2="286.2" y2="265.3" stroke="#1a1a1a" stroke-width="1.15" />
<line x1="215.6" y1="244.4" x2="232.9" y2="261.7" stroke="#1a1a1a" stroke-width="1.15" />
<line x1="228.5" y1="248.8" x2="232.5" y2="262.0" stroke="#1a1a1a" stroke-width="1.15" />
<line x1="232.9" y1="262.0" x2="253.5" y2="246.0" stroke="#1a1a1a" stroke-width="1.15" />
<line x1="232.9" y1="262.0" x2="241.3" y2="267.3" stroke="#1a1a1a" stroke-width="1.15" />
<line x1="241.3" y1="267.3" x2="259.5" y2="250.0" stroke="#1a1a1a" stroke-width="1.15" />
<circle cx="234.3" cy="226.8" r="10.50" fill="#3AA8C8"/>
<circle cx="287.6" cy="227.5" r="9.40" fill="#3AA8C8"/>
<text x="176.0" y="250.0" font-size="8" font-family="Liberation Sans, sans-serif" font-weight="normal" text-anchor="start" textLength="16.3" lengthAdjust="spacingAndGlyphs" fill="#000" stroke="#000" stroke-width="0.25">India</text>
<text x="226.0" y="229.5" font-size="8.5" font-family="Liberation Sans, sans-serif" font-weight="normal" text-anchor="start" textLength="17.0" lengthAdjust="spacingAndGlyphs" fill="#000" stroke="#000" stroke-width="0.25">India</text>
<text x="279.5" y="230.5" font-size="8.5" font-family="Liberation Sans, sans-serif" font-weight="normal" text-anchor="start" textLength="17.0" lengthAdjust="spacingAndGlyphs" fill="#000" stroke="#000" stroke-width="0.25">China</text>
<text x="179.4" y="138.0" font-size="8.6" font-family="Liberation Sans, sans-serif" font-weight="normal" text-anchor="start" textLength="31.5" lengthAdjust="spacingAndGlyphs" fill="#111" stroke="#111" stroke-width="0.12">Viet nam</text>
<text x="236.4" y="164.5" font-size="8.6" font-family="Liberation Sans, sans-serif" font-weight="normal" text-anchor="start" textLength="31.5" lengthAdjust="spacingAndGlyphs" fill="#111" stroke="#111" stroke-width="0.12">Viet nam</text>
<text x="275.3" y="154.4" font-size="8.6" font-family="Liberation Sans, sans-serif" font-weight="normal" text-anchor="start" textLength="19.8" lengthAdjust="spacingAndGlyphs" fill="#111" stroke="#111" stroke-width="0.12">Korea</text>
<text x="184.0" y="176.0" font-size="8.6" font-family="Liberation Sans, sans-serif" font-weight="normal" text-anchor="start" textLength="38.3" lengthAdjust="spacingAndGlyphs" fill="#111" stroke="#111" stroke-width="0.12">Uzbekistan</text>
<text x="234.7" y="185.6" font-size="8.6" font-family="Liberation Sans, sans-serif" font-weight="normal" text-anchor="start" textLength="18.8" lengthAdjust="spacingAndGlyphs" fill="#111" stroke="#111" stroke-width="0.12">Egypt</text>
<text x="286.1" y="187.7" font-size="8.6" font-family="Liberation Sans, sans-serif" font-weight="normal" text-anchor="start" textLength="22.8" lengthAdjust="spacingAndGlyphs" fill="#111" stroke="#111" stroke-width="0.12">Turkey</text>
<text x="143.0" y="197.3" font-size="8.6" font-family="Liberation Sans, sans-serif" font-weight="normal" text-anchor="start" textLength="28.4" lengthAdjust="spacingAndGlyphs" fill="#111" stroke="#111" stroke-width="0.12">Pakistan</text>
<text x="188.9" y="217.3" font-size="8.6" font-family="Liberation Sans, sans-serif" font-weight="normal" text-anchor="start" textLength="19.1" lengthAdjust="spacingAndGlyphs" fill="#111" stroke="#111" stroke-width="0.12">Egypt</text>
<text x="325.3" y="209.6" font-size="8.6" font-family="Liberation Sans, sans-serif" font-weight="normal" text-anchor="start" textLength="22.3" lengthAdjust="spacingAndGlyphs" fill="#111" stroke="#111" stroke-width="0.12">Turkey</text>
<text x="326.9" y="236.2" font-size="8.6" font-family="Liberation Sans, sans-serif" font-weight="normal" text-anchor="start" textLength="13.8" lengthAdjust="spacingAndGlyphs" fill="#111" stroke="#111" stroke-width="0.12">USA</text>
<text x="213.8" y="270.5" font-size="8.6" font-family="Liberation Sans, sans-serif" font-weight="normal" text-anchor="start" textLength="18.4" lengthAdjust="spacingAndGlyphs" fill="#111" stroke="#111" stroke-width="0.12">Brazil</text>
<text x="239.8" y="274.4" font-size="8.6" font-family="Liberation Sans, sans-serif" font-weight="normal" text-anchor="start" textLength="33.8" lengthAdjust="spacingAndGlyphs" fill="#111" stroke="#111" stroke-width="0.12">Indonesia</text>
<text x="286.8" y="271.9" font-size="8.6" font-family="Liberation Sans, sans-serif" font-weight="normal" text-anchor="start" textLength="24.5" lengthAdjust="spacingAndGlyphs" fill="#111" stroke="#111" stroke-width="0.12">Mexico</text>
<line x1="559.8" y1="82.4" x2="614.9" y2="257.8" stroke="rgba(150,210,120,0.45)" stroke-width="1.6" stroke-linecap="round"/>
<line x1="521.9" y1="147.0" x2="584.0" y2="247.4" stroke="rgba(150,210,120,0.45)" stroke-width="1.6" stroke-linecap="round"/>
<line x1="612.1" y1="161.8" x2="655.0" y2="262.0" stroke="rgba(150,210,120,0.45)" stroke-width="1.6" stroke-linecap="round"/>
<line x1="543.2" y1="194.4" x2="596.0" y2="262.0" stroke="rgba(150,210,120,0.45)" stroke-width="1.6" stroke-linecap="round"/>
<line x1="565.3" y1="202.2" x2="610.0" y2="262.0" stroke="rgba(150,210,120,0.45)" stroke-width="1.6" stroke-linecap="round"/>
<line x1="590.1" y1="196.3" x2="641.0" y2="262.0" stroke="rgba(150,210,120,0.45)" stroke-width="1.6" stroke-linecap="round"/>
<line x1="541.6" y1="206.7" x2="589.6" y2="265.3" stroke="rgba(150,210,120,0.45)" stroke-width="1.6" stroke-linecap="round"/>
<line x1="535.1" y1="199.5" x2="596.1" y2="265.5" stroke="rgba(150,210,120,0.45)" stroke-width="1.6" stroke-linecap="round"/>
<line x1="535.9" y1="197.8" x2="592.3" y2="260.0" stroke="rgba(150,210,120,0.45)" stroke-width="1.6" stroke-linecap="round"/>
<line x1="541.5" y1="206.5" x2="578.8" y2="259.5" stroke="rgba(150,210,120,0.45)" stroke-width="1.6" stroke-linecap="round"/>
<line x1="432.1" y1="253.1" x2="483.8" y2="268.9" stroke="rgba(150,210,120,0.45)" stroke-width="1.6" stroke-linecap="round"/>
<line x1="474.0" y1="223.6" x2="527.1" y2="264.3" stroke="rgba(150,210,120,0.45)" stroke-width="1.6" stroke-linecap="round"/>
<line x1="475.4" y1="226.8" x2="544.5" y2="256.0" stroke="rgba(150,210,120,0.45)" stroke-width="1.6" stroke-linecap="round"/>
<line x1="474.2" y1="236.4" x2="529.8" y2="265.9" stroke="rgba(150,210,120,0.45)" stroke-width="1.6" stroke-linecap="round"/>
<line x1="470.4" y1="254.7" x2="548.6" y2="266.7" stroke="rgba(150,210,120,0.45)" stroke-width="1.6" stroke-linecap="round"/>
<line x1="450.0" y1="266.7" x2="526.0" y2="273.2" stroke="rgba(150,210,120,0.45)" stroke-width="1.6" stroke-linecap="round"/>
<line x1="421.6" y1="266.3" x2="515.5" y2="273.9" stroke="rgba(150,210,120,0.45)" stroke-width="1.6" stroke-linecap="round"/>
<line x1="448.5" y1="261.3" x2="537.1" y2="272.0" stroke="rgba(150,210,120,0.45)" stroke-width="1.6" stroke-linecap="round"/>
<line x1="489.2" y1="222.9" x2="545.7" y2="263.8" stroke="rgba(150,210,120,0.45)" stroke-width="1.6" stroke-linecap="round"/>
<line x1="519.7" y1="191.8" x2="567.0" y2="250.1" stroke="rgba(150,210,120,0.45)" stroke-width="1.6" stroke-linecap="round"/>
<line x1="539.5" y1="222.3" x2="572.0" y2="262.0" stroke="rgba(150,210,120,0.45)" stroke-width="1.6" stroke-linecap="round"/>
<line x1="518.3" y1="232.1" x2="560.5" y2="264.9" stroke="rgba(150,210,120,0.45)" stroke-width="1.6" stroke-linecap="round"/>
<line x1="513.7" y1="237.3" x2="574.3" y2="268.0" stroke="rgba(150,210,120,0.45)" stroke-width="1.6" stroke-linecap="round"/>
<line x1="499.3" y1="240.3" x2="573.9" y2="268.3" stroke="rgba(150,210,120,0.45)" stroke-width="1.6" stroke-linecap="round"/>
<line x1="587.8" y1="230.1" x2="625.2" y2="268.3" stroke="rgba(150,210,120,0.45)" stroke-width="1.6" stroke-linecap="round"/>
<line x1="571.6" y1="234.3" x2="633.8" y2="266.9" stroke="rgba(150,210,120,0.45)" stroke-width="1.6" stroke-linecap="round"/>
<line x1="542.8" y1="245.2" x2="590.4" y2="268.2" stroke="rgba(150,210,120,0.45)" stroke-width="1.6" stroke-linecap="round"/>
<line x1="553.9" y1="245.2" x2="607.0" y2="270.2" stroke="rgba(150,210,120,0.45)" stroke-width="1.6" stroke-linecap="round"/>
<line x1="598.3" y1="219.3" x2="647.7" y2="263.3" stroke="rgba(150,210,120,0.45)" stroke-width="1.6" stroke-linecap="round"/>
<line x1="592.3" y1="216.1" x2="626.9" y2="264.4" stroke="rgba(150,210,120,0.45)" stroke-width="1.6" stroke-linecap="round"/>
<line x1="588.7" y1="219.1" x2="644.7" y2="257.7" stroke="rgba(150,210,120,0.45)" stroke-width="1.6" stroke-linecap="round"/>
<line x1="585.7" y1="212.5" x2="649.9" y2="264.2" stroke="rgba(150,210,120,0.45)" stroke-width="1.6" stroke-linecap="round"/>
<line x1="618.1" y1="173.1" x2="672.0" y2="267.8" stroke="rgba(150,210,120,0.45)" stroke-width="1.6" stroke-linecap="round"/>
<line x1="623.5" y1="196.2" x2="662.8" y2="256.9" stroke="rgba(150,210,120,0.45)" stroke-width="1.6" stroke-linecap="round"/>
<line x1="596.8" y1="189.7" x2="628.9" y2="261.1" stroke="rgba(150,210,120,0.45)" stroke-width="1.6" stroke-linecap="round"/>
<line x1="608.8" y1="208.2" x2="637.9" y2="261.3" stroke="rgba(150,210,120,0.45)" stroke-width="1.6" stroke-linecap="round"/>
<line x1="628.1" y1="206.7" x2="672.0" y2="262.6" stroke="rgba(150,210,120,0.45)" stroke-width="1.6" stroke-linecap="round"/>
<line x1="626.1" y1="232.8" x2="672.0" y2="270.5" stroke="rgba(150,210,120,0.45)" stroke-width="1.6" stroke-linecap="round"/>
<line x1="624.3" y1="220.9" x2="671.1" y2="265.1" stroke="rgba(150,210,120,0.45)" stroke-width="1.6" stroke-linecap="round"/>
<line x1="613.4" y1="245.9" x2="657.1" y2="271.1" stroke="rgba(150,210,120,0.45)" stroke-width="1.6" stroke-linecap="round"/>
<line x1="618.0" y1="260.7" x2="668.7" y2="271.6" stroke="rgba(150,210,120,0.45)" stroke-width="1.6" stroke-linecap="round"/>
<line x1="598.2" y1="219.4" x2="639.0" y2="263.8" stroke="rgba(150,210,120,0.45)" stroke-width="1.6" stroke-linecap="round"/>
<line x1="609.0" y1="208.2" x2="638.6" y2="260.7" stroke="rgba(150,210,120,0.45)" stroke-width="1.6" stroke-linecap="round"/>
<line x1="627.9" y1="206.8" x2="672.0" y2="255.4" stroke="rgba(150,210,120,0.45)" stroke-width="1.6" stroke-linecap="round"/>
<line x1="510.8" y1="247.7" x2="561.5" y2="258.2" stroke="rgba(150,210,120,0.45)" stroke-width="1.6" stroke-linecap="round"/>
<line x1="491.5" y1="253.0" x2="578.5" y2="269.8" stroke="rgba(150,210,120,0.45)" stroke-width="1.6" stroke-linecap="round"/>
<line x1="490.0" y1="255.3" x2="557.4" y2="268.4" stroke="rgba(150,210,120,0.45)" stroke-width="1.6" stroke-linecap="round"/>
<line x1="474.2" y1="236.4" x2="525.2" y2="263.5" stroke="rgba(150,210,120,0.45)" stroke-width="1.6" stroke-linecap="round"/>
<line x1="542.7" y1="245.4" x2="584.4" y2="271.5" stroke="rgba(150,210,120,0.45)" stroke-width="1.6" stroke-linecap="round"/>
<line x1="496.2" y1="263.5" x2="548.9" y2="271.1" stroke="rgba(150,210,120,0.45)" stroke-width="1.6" stroke-linecap="round"/>
<line x1="497.7" y1="265.3" x2="553.5" y2="273.2" stroke="rgba(150,210,120,0.45)" stroke-width="1.6" stroke-linecap="round"/>
<line x1="470.5" y1="254.7" x2="538.1" y2="267.1" stroke="rgba(150,210,120,0.45)" stroke-width="1.6" stroke-linecap="round"/>
<line x1="522.5" y1="272.0" x2="560.7" y2="275.1" stroke="rgba(150,210,120,0.45)" stroke-width="1.6" stroke-linecap="round"/>
<line x1="632.6" y1="245.7" x2="664.0" y2="275.0" stroke="rgba(150,210,120,0.45)" stroke-width="1.6" stroke-linecap="round"/>
<line x1="627.3" y1="253.4" x2="670.1" y2="269.9" stroke="rgba(150,210,120,0.45)" stroke-width="1.6" stroke-linecap="round"/>
<line x1="601.4" y1="229.8" x2="651.5" y2="263.7" stroke="rgba(150,210,120,0.45)" stroke-width="1.6" stroke-linecap="round"/>
<line x1="611.6" y1="253.4" x2="647.1" y2="272.5" stroke="rgba(150,210,120,0.45)" stroke-width="1.6" stroke-linecap="round"/>
<line x1="611.7" y1="226.9" x2="649.4" y2="262.7" stroke="rgba(150,210,120,0.45)" stroke-width="1.6" stroke-linecap="round"/>
<line x1="609.9" y1="233.4" x2="663.8" y2="272.3" stroke="rgba(150,210,120,0.45)" stroke-width="1.6" stroke-linecap="round"/>
<line x1="620.1" y1="230.9" x2="652.9" y2="271.1" stroke="rgba(150,210,120,0.45)" stroke-width="1.6" stroke-linecap="round"/>
<line x1="626.0" y1="232.7" x2="660.3" y2="268.6" stroke="rgba(150,210,120,0.45)" stroke-width="1.6" stroke-linecap="round"/>
<line x1="619.7" y1="235.7" x2="663.6" y2="271.3" stroke="rgba(150,210,120,0.45)" stroke-width="1.6" stroke-linecap="round"/>
<line x1="613.2" y1="245.9" x2="641.3" y2="271.3" stroke="rgba(150,210,120,0.45)" stroke-width="1.6" stroke-linecap="round"/>
<line x1="624.3" y1="220.9" x2="662.3" y2="265.4" stroke="rgba(150,210,120,0.45)" stroke-width="1.6" stroke-linecap="round"/>
<line x1="623.4" y1="196.5" x2="672.0" y2="258.3" stroke="rgba(150,210,120,0.45)" stroke-width="1.6" stroke-linecap="round"/>
<line x1="608.9" y1="208.4" x2="650.8" y2="262.2" stroke="rgba(150,210,120,0.45)" stroke-width="1.6" stroke-linecap="round"/>
<line x1="627.9" y1="206.9" x2="672.0" y2="271.6" stroke="rgba(150,210,120,0.45)" stroke-width="1.6" stroke-linecap="round"/>
<line x1="638.4" y1="219.2" x2="672.0" y2="262.1" stroke="rgba(150,210,120,0.45)" stroke-width="1.6" stroke-linecap="round"/>
<line x1="596.9" y1="190.2" x2="648.5" y2="254.6" stroke="rgba(150,210,120,0.45)" stroke-width="1.6" stroke-linecap="round"/>
<line x1="601.7" y1="229.4" x2="640.3" y2="269.0" stroke="rgba(150,210,120,0.45)" stroke-width="1.6" stroke-linecap="round"/>
<line x1="585.7" y1="212.2" x2="624.8" y2="259.0" stroke="rgba(150,210,120,0.45)" stroke-width="1.6" stroke-linecap="round"/>
<line x1="593.0" y1="216.2" x2="622.7" y2="272.0" stroke="rgba(150,210,120,0.45)" stroke-width="1.6" stroke-linecap="round"/>
<line x1="546.2" y1="251.4" x2="589.6" y2="272.1" stroke="rgba(150,210,120,0.45)" stroke-width="1.6" stroke-linecap="round"/>
<line x1="576.9" y1="247.7" x2="625.5" y2="272.3" stroke="rgba(150,210,120,0.45)" stroke-width="1.6" stroke-linecap="round"/>
<line x1="405.0" y1="260.6" x2="455.6" y2="265.5" stroke="rgba(150,210,120,0.45)" stroke-width="1.6" stroke-linecap="round"/>
<line x1="407.4" y1="272.9" x2="486.2" y2="276.1" stroke="rgba(150,210,120,0.45)" stroke-width="1.6" stroke-linecap="round"/>
<line x1="429.0" y1="263.9" x2="494.0" y2="266.9" stroke="rgba(150,210,120,0.45)" stroke-width="1.6" stroke-linecap="round"/>
<line x1="485.6" y1="274.9" x2="556.3" y2="277.0" stroke="rgba(150,210,120,0.45)" stroke-width="1.6" stroke-linecap="round"/>
<line x1="413.2" y1="259.7" x2="477.0" y2="263.9" stroke="rgba(150,210,120,0.45)" stroke-width="1.6" stroke-linecap="round"/>
<line x1="483.7" y1="260.7" x2="530.0" y2="270.4" stroke="rgba(150,210,120,0.45)" stroke-width="1.6" stroke-linecap="round"/>
<line x1="455.2" y1="260.5" x2="530.1" y2="262.7" stroke="rgba(150,210,120,0.45)" stroke-width="1.6" stroke-linecap="round"/>
<line x1="455.2" y1="274.6" x2="547.7" y2="277.0" stroke="rgba(150,210,120,0.45)" stroke-width="1.6" stroke-linecap="round"/>
<line x1="429.8" y1="264.2" x2="484.0" y2="272.4" stroke="rgba(150,210,120,0.45)" stroke-width="1.6" stroke-linecap="round"/>
<line x1="455.6" y1="271.2" x2="518.7" y2="275.0" stroke="rgba(150,210,120,0.45)" stroke-width="1.6" stroke-linecap="round"/>
<line x1="482.1" y1="274.7" x2="574.0" y2="277.0" stroke="rgba(150,210,120,0.45)" stroke-width="1.6" stroke-linecap="round"/>
<line x1="482.7" y1="270.6" x2="540.2" y2="276.7" stroke="rgba(150,210,120,0.45)" stroke-width="1.6" stroke-linecap="round"/>
<line x1="438.8" y1="258.5" x2="485.3" y2="262.7" stroke="rgba(150,210,120,0.45)" stroke-width="1.6" stroke-linecap="round"/>
<line x1="429.6" y1="269.8" x2="527.2" y2="275.4" stroke="rgba(150,210,120,0.45)" stroke-width="1.6" stroke-linecap="round"/>
<line x1="494.0" y1="274.8" x2="591.5" y2="277.0" stroke="rgba(150,210,120,0.45)" stroke-width="1.6" stroke-linecap="round"/>
<line x1="425.9" y1="261.9" x2="481.8" y2="265.5" stroke="rgba(150,210,120,0.45)" stroke-width="1.6" stroke-linecap="round"/>
<line x1="464.3" y1="273.3" x2="555.5" y2="277.0" stroke="rgba(150,210,120,0.45)" stroke-width="1.6" stroke-linecap="round"/>
<line x1="467.0" y1="271.6" x2="516.7" y2="277.0" stroke="rgba(150,210,120,0.45)" stroke-width="1.6" stroke-linecap="round"/>
<line x1="491.4" y1="271.3" x2="577.7" y2="277.0" stroke="rgba(150,210,120,0.45)" stroke-width="1.6" stroke-linecap="round"/>
<line x1="422.0" y1="271.4" x2="485.2" y2="277.0" stroke="rgba(150,210,120,0.45)" stroke-width="1.6" stroke-linecap="round"/>
<line x1="497.3" y1="264.7" x2="564.4" y2="274.3" stroke="rgba(150,210,120,0.45)" stroke-width="1.6" stroke-linecap="round"/>
<line x1="473.9" y1="260.9" x2="525.8" y2="264.1" stroke="rgba(150,210,120,0.45)" stroke-width="1.6" stroke-linecap="round"/>
<line x1="588.6" y1="245.3" x2="634.4" y2="266.6" stroke="rgba(150,210,120,0.45)" stroke-width="1.6" stroke-linecap="round"/>
<line x1="597.6" y1="237.9" x2="651.7" y2="267.0" stroke="rgba(150,210,120,0.45)" stroke-width="1.6" stroke-linecap="round"/>
<line x1="495.7" y1="205.7" x2="574.6" y2="257.6" stroke="rgba(150,210,120,0.45)" stroke-width="1.6" stroke-linecap="round"/>
<line x1="543.2" y1="251.7" x2="600.5" y2="268.3" stroke="rgba(150,210,120,0.45)" stroke-width="1.6" stroke-linecap="round"/>
<line x1="579.1" y1="215.6" x2="629.2" y2="265.5" stroke="rgba(150,210,120,0.45)" stroke-width="1.6" stroke-linecap="round"/>
<line x1="508.9" y1="234.3" x2="559.2" y2="267.5" stroke="rgba(150,210,120,0.45)" stroke-width="1.6" stroke-linecap="round"/>
<line x1="495.7" y1="250.5" x2="549.9" y2="270.5" stroke="rgba(150,210,120,0.45)" stroke-width="1.6" stroke-linecap="round"/>
<line x1="550.0" y1="250.2" x2="606.8" y2="267.5" stroke="rgba(150,210,120,0.45)" stroke-width="1.6" stroke-linecap="round"/>
<line x1="540.2" y1="231.6" x2="601.1" y2="271.4" stroke="rgba(150,210,120,0.45)" stroke-width="1.6" stroke-linecap="round"/>
<line x1="532.8" y1="214.2" x2="573.0" y2="257.5" stroke="rgba(150,210,120,0.45)" stroke-width="1.6" stroke-linecap="round"/>
<line x1="500.7" y1="228.7" x2="569.7" y2="264.7" stroke="rgba(150,210,120,0.45)" stroke-width="1.6" stroke-linecap="round"/>
<line x1="519.1" y1="230.9" x2="581.3" y2="262.7" stroke="rgba(150,210,120,0.45)" stroke-width="1.6" stroke-linecap="round"/>
<line x1="492.7" y1="233.0" x2="542.7" y2="268.7" stroke="rgba(150,210,120,0.45)" stroke-width="1.6" stroke-linecap="round"/>
<line x1="572.7" y1="230.4" x2="635.1" y2="262.8" stroke="rgba(150,210,120,0.45)" stroke-width="1.6" stroke-linecap="round"/>
<line x1="589.5" y1="227.2" x2="654.0" y2="264.9" stroke="rgba(150,210,120,0.45)" stroke-width="1.6" stroke-linecap="round"/>
<line x1="541.5" y1="239.6" x2="599.6" y2="267.5" stroke="rgba(150,210,120,0.45)" stroke-width="1.6" stroke-linecap="round"/>
<line x1="397.0" y1="276.4" x2="420.0" y2="276.2" stroke="rgba(150,210,120,0.45)" stroke-width="1.6" stroke-linecap="round"/>
<line x1="435.0" y1="276.6" x2="469.3" y2="276.6" stroke="rgba(255,70,70,0.42)" stroke-width="1.6" stroke-linecap="round"/>
<line x1="533.1" y1="262.3" x2="549.9" y2="259.4" stroke="rgba(255,70,70,0.42)" stroke-width="1.6" stroke-linecap="round"/>
<path d="M407.2,275.4 C413.5,274.9 434.7,273.6 445.2,272.5 C455.7,271.4 462.5,270.4 470.0,268.8 C477.5,267.2 482.5,265.5 490.0,263.1 C497.5,260.7 508.2,257.1 514.8,254.3 C521.4,251.5 524.8,249.0 529.4,246.3 C534.0,243.6 538.2,240.5 542.6,238.2 C547.0,235.9 551.8,234.2 555.7,232.4 C559.6,230.6 562.5,229.4 565.9,227.3 C569.3,225.2 572.2,221.9 576.1,220.0 C580.0,218.1 585.1,216.2 589.0,215.9 C592.9,215.6 594.8,216.4 599.5,218.2 C604.2,219.9 610.8,223.7 617.4,226.4 C624.0,229.1 635.5,233.2 639.1,234.6" fill="none" stroke="#22229a" stroke-width="1.3"/>
<path d="M639.1,234.6 C640.9,236.0 646.6,239.9 650.0,243.0 C653.4,246.1 657.8,251.7 659.3,253.4" fill="none" stroke="#22229a" stroke-width="1.3" stroke-dasharray="4,3"/>
<circle cx="589.6" cy="265.3" r="1.21" fill="#3AA8C8"/>
<circle cx="596.1" cy="265.5" r="1.26" fill="#3AA8C8"/>
<circle cx="578.8" cy="259.5" r="1.10" fill="#3AA8C8"/>
<circle cx="625.2" cy="268.3" r="1.65" fill="#3AA8C8"/>
<circle cx="633.8" cy="266.9" r="1.38" fill="#3AA8C8"/>
<circle cx="590.4" cy="268.2" r="1.65" fill="#3AA8C8"/>
<circle cx="607.0" cy="270.2" r="1.65" fill="#3AA8C8"/>
<circle cx="647.7" cy="263.3" r="0.99" fill="#3AA8C8"/>
<circle cx="672.0" cy="270.5" r="1.26" fill="#3AA8C8"/>
<circle cx="657.1" cy="271.1" r="1.10" fill="#3AA8C8"/>
<circle cx="639.0" cy="263.8" r="0.99" fill="#3AA8C8"/>
<circle cx="578.5" cy="269.8" r="1.38" fill="#3AA8C8"/>
<circle cx="557.4" cy="268.4" r="1.38" fill="#3AA8C8"/>
<circle cx="584.4" cy="271.5" r="1.65" fill="#3AA8C8"/>
<circle cx="548.9" cy="271.1" r="1.26" fill="#3AA8C8"/>
<circle cx="649.4" cy="262.7" r="1.65" fill="#3AA8C8"/>
<circle cx="663.8" cy="272.3" r="1.10" fill="#3AA8C8"/>
<circle cx="660.3" cy="268.6" r="1.32" fill="#3AA8C8"/>
<circle cx="641.3" cy="271.3" r="1.21" fill="#3AA8C8"/>
<circle cx="589.6" cy="272.1" r="0.99" fill="#3AA8C8"/>
<circle cx="405.0" cy="260.6" r="0.80" fill="#FF6600"/>
<circle cx="455.6" cy="265.5" r="0.80" fill="#3AA8C8"/>
<circle cx="407.4" cy="272.9" r="0.80" fill="#FF6600"/>
<circle cx="486.2" cy="276.1" r="0.80" fill="#3AA8C8"/>
<circle cx="429.0" cy="263.9" r="0.80" fill="#FF6600"/>
<circle cx="494.0" cy="266.9" r="0.80" fill="#3AA8C8"/>
<circle cx="485.6" cy="274.9" r="0.80" fill="#FF6600"/>
<circle cx="556.3" cy="277.0" r="0.80" fill="#3AA8C8"/>
<circle cx="413.2" cy="259.7" r="0.80" fill="#FF6600"/>
<circle cx="477.0" cy="263.9" r="0.80" fill="#3AA8C8"/>
<circle cx="483.7" cy="260.7" r="0.80" fill="#FF6600"/>
<circle cx="530.0" cy="270.4" r="0.80" fill="#3AA8C8"/>
<circle cx="455.2" cy="260.5" r="0.80" fill="#FF6600"/>
<circle cx="530.1" cy="262.7" r="0.80" fill="#3AA8C8"/>
<circle cx="455.2" cy="274.6" r="0.80" fill="#FF6600"/>
<circle cx="547.7" cy="277.0" r="0.80" fill="#3AA8C8"/>
<circle cx="429.8" cy="264.2" r="0.80" fill="#FF6600"/>
<circle cx="484.0" cy="272.4" r="0.80" fill="#3AA8C8"/>
<circle cx="455.6" cy="271.2" r="0.80" fill="#FF6600"/>
<circle cx="518.7" cy="275.0" r="0.80" fill="#3AA8C8"/>
<circle cx="482.1" cy="274.7" r="0.80" fill="#FF6600"/>
<circle cx="574.0" cy="277.0" r="0.80" fill="#3AA8C8"/>
<circle cx="482.7" cy="270.6" r="0.80" fill="#FF6600"/>
<circle cx="540.2" cy="276.7" r="0.80" fill="#3AA8C8"/>
<circle cx="438.8" cy="258.5" r="0.80" fill="#FF6600"/>
<circle cx="485.3" cy="262.7" r="0.80" fill="#3AA8C8"/>
<circle cx="429.6" cy="269.8" r="0.80" fill="#FF6600"/>
<circle cx="527.2" cy="275.4" r="0.80" fill="#3AA8C8"/>
<circle cx="494.0" cy="274.8" r="0.80" fill="#FF6600"/>
<circle cx="591.5" cy="277.0" r="0.80" fill="#3AA8C8"/>
<circle cx="425.9" cy="261.9" r="0.80" fill="#FF6600"/>
<circle cx="481.8" cy="265.5" r="0.80" fill="#3AA8C8"/>
<circle cx="464.3" cy="273.3" r="0.80" fill="#FF6600"/>
<circle cx="555.5" cy="277.0" r="0.80" fill="#3AA8C8"/>
<circle cx="467.0" cy="271.6" r="0.80" fill="#FF6600"/>
<circle cx="516.7" cy="277.0" r="0.80" fill="#3AA8C8"/>
<circle cx="491.4" cy="271.3" r="0.80" fill="#FF6600"/>
<circle cx="577.7" cy="277.0" r="0.80" fill="#3AA8C8"/>
<circle cx="422.0" cy="271.4" r="0.80" fill="#FF6600"/>
<circle cx="485.2" cy="277.0" r="0.80" fill="#3AA8C8"/>
<circle cx="497.3" cy="264.7" r="0.80" fill="#FF6600"/>
<circle cx="564.4" cy="274.3" r="0.80" fill="#3AA8C8"/>
<circle cx="473.9" cy="260.9" r="0.80" fill="#FF6600"/>
<circle cx="525.8" cy="264.1" r="0.80" fill="#3AA8C8"/>
<circle cx="588.6" cy="245.3" r="0.80" fill="#FF6600"/>
<circle cx="634.4" cy="266.6" r="0.90" fill="#3AA8C8"/>
<circle cx="597.6" cy="237.9" r="0.80" fill="#FF6600"/>
<circle cx="651.7" cy="267.0" r="0.90" fill="#3AA8C8"/>
<circle cx="495.7" cy="205.7" r="0.80" fill="#FF6600"/>
<circle cx="574.6" cy="257.6" r="0.90" fill="#3AA8C8"/>
<circle cx="543.2" cy="251.7" r="0.80" fill="#FF6600"/>
<circle cx="600.5" cy="268.3" r="0.90" fill="#3AA8C8"/>
<circle cx="579.1" cy="215.6" r="0.80" fill="#FF6600"/>
<circle cx="629.2" cy="265.5" r="0.90" fill="#3AA8C8"/>
<circle cx="508.9" cy="234.3" r="0.80" fill="#FF6600"/>
<circle cx="559.2" cy="267.5" r="0.90" fill="#3AA8C8"/>
<circle cx="495.7" cy="250.5" r="0.80" fill="#FF6600"/>
<circle cx="549.9" cy="270.5" r="0.90" fill="#3AA8C8"/>
<circle cx="550.0" cy="250.2" r="0.80" fill="#FF6600"/>
<circle cx="606.8" cy="267.5" r="0.90" fill="#3AA8C8"/>
<circle cx="540.2" cy="231.6" r="0.80" fill="#FF6600"/>
<circle cx="601.1" cy="271.4" r="0.90" fill="#3AA8C8"/>
<circle cx="532.8" cy="214.2" r="0.80" fill="#FF6600"/>
<circle cx="573.0" cy="257.5" r="0.90" fill="#3AA8C8"/>
<circle cx="500.7" cy="228.7" r="0.80" fill="#FF6600"/>
<circle cx="569.7" cy="264.7" r="0.90" fill="#3AA8C8"/>
<circle cx="519.1" cy="230.9" r="0.80" fill="#FF6600"/>
<circle cx="581.3" cy="262.7" r="0.90" fill="#3AA8C8"/>
<circle cx="492.7" cy="233.0" r="0.80" fill="#FF6600"/>
<circle cx="542.7" cy="268.7" r="0.90" fill="#3AA8C8"/>
<circle cx="572.7" cy="230.4" r="0.80" fill="#FF6600"/>
<circle cx="635.1" cy="262.8" r="0.90" fill="#3AA8C8"/>
<circle cx="589.5" cy="227.2" r="0.80" fill="#FF6600"/>
<circle cx="654.0" cy="264.9" r="0.90" fill="#3AA8C8"/>
<circle cx="541.5" cy="239.6" r="0.80" fill="#FF6600"/>
<circle cx="599.6" cy="267.5" r="0.90" fill="#3AA8C8"/>
<circle cx="521.9" cy="147.0" r="4.10" fill="#FF6600"/>
<circle cx="612.1" cy="161.8" r="2.90" fill="#FF6600"/>
<circle cx="543.2" cy="194.4" r="3.00" fill="#FF6600"/>
<circle cx="565.3" cy="202.2" r="2.50" fill="#FF6600"/>
<circle cx="590.1" cy="196.3" r="3.00" fill="#FF6600"/>
<circle cx="541.6" cy="206.7" r="2.20" fill="#FF6600"/>
<circle cx="535.1" cy="199.5" r="2.30" fill="#FF6600"/>
<circle cx="535.9" cy="197.8" r="1.50" fill="#FF6600"/>
<circle cx="541.5" cy="206.5" r="2.00" fill="#FF6600"/>
<circle cx="432.1" cy="253.1" r="1.10" fill="#FF6600"/>
<circle cx="474.0" cy="223.6" r="1.20" fill="#FF6600"/>
<circle cx="475.4" cy="226.8" r="1.30" fill="#FF6600"/>
<circle cx="474.2" cy="236.4" r="1.60" fill="#FF6600"/>
<circle cx="470.4" cy="254.7" r="1.00" fill="#FF6600"/>
<circle cx="450.0" cy="266.7" r="1.60" fill="#FF6600"/>
<circle cx="421.6" cy="266.3" r="1.00" fill="#FF6600"/>
<circle cx="448.5" cy="261.3" r="1.00" fill="#FF6600"/>
<circle cx="489.2" cy="222.9" r="1.20" fill="#FF6600"/>
<circle cx="519.7" cy="191.8" r="1.10" fill="#FF6600"/>
<circle cx="539.5" cy="222.3" r="2.60" fill="#FF6600"/>
<circle cx="518.3" cy="232.1" r="1.50" fill="#FF6600"/>
<circle cx="513.7" cy="237.3" r="1.20" fill="#FF6600"/>
<circle cx="499.3" cy="240.3" r="1.00" fill="#FF6600"/>
<circle cx="587.8" cy="230.1" r="3.00" fill="#FF6600"/>
<circle cx="571.6" cy="234.3" r="2.50" fill="#FF6600"/>
<circle cx="542.8" cy="245.2" r="3.00" fill="#FF6600"/>
<circle cx="553.9" cy="245.2" r="3.00" fill="#FF6600"/>
<circle cx="598.3" cy="219.3" r="1.80" fill="#FF6600"/>
<circle cx="592.3" cy="216.1" r="1.50" fill="#FF6600"/>
<circle cx="588.7" cy="219.1" r="1.50" fill="#FF6600"/>
<circle cx="585.7" cy="212.5" r="1.30" fill="#FF6600"/>
<circle cx="618.1" cy="173.1" r="1.00" fill="#FF6600"/>
<circle cx="623.5" cy="196.2" r="1.30" fill="#FF6600"/>
<circle cx="596.8" cy="189.7" r="1.20" fill="#FF6600"/>
<circle cx="608.8" cy="208.2" r="1.00" fill="#FF6600"/>
<circle cx="628.1" cy="206.7" r="1.20" fill="#FF6600"/>
<circle cx="626.1" cy="232.8" r="2.30" fill="#FF6600"/>
<circle cx="624.3" cy="220.9" r="1.50" fill="#FF6600"/>
<circle cx="613.4" cy="245.9" r="2.00" fill="#FF6600"/>
<circle cx="618.0" cy="260.7" r="1.10" fill="#FF6600"/>
<circle cx="598.2" cy="219.4" r="1.80" fill="#FF6600"/>
<circle cx="609.0" cy="208.2" r="1.00" fill="#FF6600"/>
<circle cx="627.9" cy="206.8" r="1.00" fill="#FF6600"/>
<circle cx="510.8" cy="247.7" r="7.20" fill="#FF6600"/>
<circle cx="491.5" cy="253.0" r="2.50" fill="#FF6600"/>
<circle cx="490.0" cy="255.3" r="2.50" fill="#FF6600"/>
<circle cx="474.2" cy="236.4" r="1.50" fill="#FF6600"/>
<circle cx="542.7" cy="245.4" r="3.00" fill="#FF6600"/>
<circle cx="496.2" cy="263.5" r="2.30" fill="#FF6600"/>
<circle cx="497.7" cy="265.3" r="1.50" fill="#FF6600"/>
<circle cx="470.5" cy="254.7" r="1.00" fill="#FF6600"/>
<circle cx="522.5" cy="272.0" r="0.80" fill="#FF6600"/>
<circle cx="632.6" cy="245.7" r="3.80" fill="#FF6600"/>
<circle cx="627.3" cy="253.4" r="1.00" fill="#FF6600"/>
<circle cx="601.4" cy="229.8" r="1.00" fill="#FF6600"/>
<circle cx="611.6" cy="253.4" r="0.80" fill="#FF6600"/>
<circle cx="611.7" cy="226.9" r="3.00" fill="#FF6600"/>
<circle cx="609.9" cy="233.4" r="2.00" fill="#FF6600"/>
<circle cx="620.1" cy="230.9" r="1.50" fill="#FF6600"/>
<circle cx="626.0" cy="232.7" r="2.40" fill="#FF6600"/>
<circle cx="619.7" cy="235.7" r="1.50" fill="#FF6600"/>
<circle cx="613.2" cy="245.9" r="2.20" fill="#FF6600"/>
<circle cx="624.3" cy="220.9" r="1.50" fill="#FF6600"/>
<circle cx="623.4" cy="196.5" r="1.20" fill="#FF6600"/>
<circle cx="608.9" cy="208.4" r="1.00" fill="#FF6600"/>
<circle cx="627.9" cy="206.9" r="1.00" fill="#FF6600"/>
<circle cx="638.4" cy="219.2" r="1.00" fill="#FF6600"/>
<circle cx="596.9" cy="190.2" r="1.00" fill="#FF6600"/>
<circle cx="601.7" cy="229.4" r="1.00" fill="#FF6600"/>
<circle cx="585.7" cy="212.2" r="1.50" fill="#FF6600"/>
<circle cx="593.0" cy="216.2" r="1.20" fill="#FF6600"/>
<circle cx="546.2" cy="251.4" r="1.80" fill="#FF6600"/>
<circle cx="576.9" cy="247.7" r="1.30" fill="#FF6600"/>
<circle cx="583.7" cy="247.7" r="2.30" fill="#3AA8C8"/>
<circle cx="583.3" cy="265.0" r="1.80" fill="#3AA8C8"/>
<circle cx="589.0" cy="266.1" r="2.00" fill="#3AA8C8"/>
<circle cx="601.0" cy="263.8" r="1.50" fill="#3AA8C8"/>
<circle cx="628.2" cy="258.1" r="1.30" fill="#3AA8C8"/>
<circle cx="637.3" cy="260.8" r="1.00" fill="#3AA8C8"/>
<circle cx="649.6" cy="262.8" r="1.00" fill="#3AA8C8"/>
<circle cx="641.1" cy="267.6" r="1.30" fill="#3AA8C8"/>
<circle cx="663.8" cy="274.6" r="1.30" fill="#3AA8C8"/>
<circle cx="645.9" cy="269.8" r="1.00" fill="#3AA8C8"/>
<circle cx="577.6" cy="236.8" r="2.30" fill="#3AA8C8"/>
<circle cx="583.9" cy="247.4" r="2.30" fill="#3AA8C8"/>
<circle cx="576.9" cy="254.7" r="1.60" fill="#3AA8C8"/>
<circle cx="523.3" cy="265.7" r="2.30" fill="#3AA8C8"/>
<circle cx="519.9" cy="271.4" r="1.60" fill="#3AA8C8"/>
<circle cx="504.6" cy="270.8" r="1.20" fill="#3AA8C8"/>
<circle cx="583.4" cy="264.5" r="2.00" fill="#3AA8C8"/>
<circle cx="553.1" cy="239.0" r="1.50" fill="#3AA8C8"/>
<circle cx="545.0" cy="268.2" r="1.50" fill="#3AA8C8"/>
<circle cx="534.5" cy="264.5" r="1.00" fill="#3AA8C8"/>
<circle cx="469.3" cy="259.3" r="1.00" fill="#3AA8C8"/>
<line x1="592.7" y1="195.0" x2="612.2" y2="186.7" stroke="#1a1a1a" stroke-width="1.15" />
<line x1="636.1" y1="243.6" x2="654.1" y2="236.1" stroke="#1a1a1a" stroke-width="1.15" />
<line x1="532.3" y1="219.3" x2="537.7" y2="221.1" stroke="#1a1a1a" stroke-width="1.15" />
<line x1="541.1" y1="272.6" x2="552.8" y2="247.0" stroke="#1a1a1a" stroke-width="1.15" />
<circle cx="561.5" cy="258.2" r="6.60" fill="#3AA8C8"/>
<circle cx="615.1" cy="258.3" r="9.60" fill="#3AA8C8"/>
<text x="502.8" y="250.8" font-size="8" font-family="Liberation Sans, sans-serif" font-weight="normal" text-anchor="start" textLength="16.2" lengthAdjust="spacingAndGlyphs" fill="#000" stroke="#000" stroke-width="0.25">India</text>
<text x="553.1" y="260.8" font-size="8.5" font-family="Liberation Sans, sans-serif" font-weight="normal" text-anchor="start" textLength="16.9" lengthAdjust="spacingAndGlyphs" fill="#000" stroke="#000" stroke-width="0.25">India</text>
<text x="606.5" y="260.8" font-size="8.5" font-family="Liberation Sans, sans-serif" font-weight="normal" text-anchor="start" textLength="17.0" lengthAdjust="spacingAndGlyphs" fill="#000" stroke="#000" stroke-width="0.25">China</text>
<text x="506.4" y="138.8" font-size="8.6" font-family="Liberation Sans, sans-serif" font-weight="normal" text-anchor="start" textLength="31.5" lengthAdjust="spacingAndGlyphs" fill="#111" stroke="#111" stroke-width="0.12">Viet nam</text>
<text x="602.3" y="155.2" font-size="8.6" font-family="Liberation Sans, sans-serif" font-weight="normal" text-anchor="start" textLength="19.8" lengthAdjust="spacingAndGlyphs" fill="#111" stroke="#111" stroke-width="0.12">Korea</text>
<text x="613.1" y="188.5" font-size="8.6" font-family="Liberation Sans, sans-serif" font-weight="normal" text-anchor="start" textLength="22.8" lengthAdjust="spacingAndGlyphs" fill="#111" stroke="#111" stroke-width="0.12">Turkey</text>
<text x="515.9" y="218.1" font-size="8.6" font-family="Liberation Sans, sans-serif" font-weight="normal" text-anchor="start" textLength="19.1" lengthAdjust="spacingAndGlyphs" fill="#111" stroke="#111" stroke-width="0.12">Egypt</text>
<text x="654.9" y="236.8" font-size="8.6" font-family="Liberation Sans, sans-serif" font-weight="normal" text-anchor="start" textLength="14.5" lengthAdjust="spacingAndGlyphs" fill="#111" stroke="#111" stroke-width="0.12">USA</text>
<text x="529.7" y="278.4" font-size="8.6" font-family="Liberation Sans, sans-serif" font-weight="normal" text-anchor="start" textLength="18.7" lengthAdjust="spacingAndGlyphs" fill="#111" stroke="#111" stroke-width="0.12">Brazil</text>
<line x1="65.2" y1="572.0" x2="119.5" y2="497.5" stroke="rgba(255,70,70,0.42)" stroke-width="3.0" stroke-linecap="round"/>
<line x1="64.2" y1="604.2" x2="143.8" y2="526.9" stroke="rgba(255,70,70,0.42)" stroke-width="3.0" stroke-linecap="round"/>
<line x1="107.3" y1="594.9" x2="194.6" y2="521.7" stroke="rgba(255,70,70,0.42)" stroke-width="3.0" stroke-linecap="round"/>
<line x1="172.0" y1="571.0" x2="253.4" y2="387.8" stroke="rgba(255,70,70,0.42)" stroke-width="3.0" stroke-linecap="round"/>
<line x1="165.0" y1="600.0" x2="236.3" y2="542.4" stroke="rgba(255,70,70,0.42)" stroke-width="3.0" stroke-linecap="round"/>
<line x1="175.0" y1="598.0" x2="236.3" y2="542.4" stroke="rgba(255,70,70,0.42)" stroke-width="3.0" stroke-linecap="round"/>
<line x1="185.0" y1="596.0" x2="236.3" y2="542.4" stroke="rgba(255,70,70,0.42)" stroke-width="3.0" stroke-linecap="round"/>
<line x1="170.0" y1="597.0" x2="239.3" y2="533.8" stroke="rgba(255,70,70,0.42)" stroke-width="3.0" stroke-linecap="round"/>
<line x1="150.0" y1="603.0" x2="221.1" y2="552.9" stroke="rgba(255,70,70,0.42)" stroke-width="3.0" stroke-linecap="round"/>
<line x1="160.0" y1="601.0" x2="221.1" y2="552.9" stroke="rgba(255,70,70,0.42)" stroke-width="3.0" stroke-linecap="round"/>
<line x1="130.0" y1="590.0" x2="193.5" y2="566.4" stroke="rgba(255,70,70,0.42)" stroke-width="3.0" stroke-linecap="round"/>
<line x1="150.0" y1="600.0" x2="204.6" y2="572.8" stroke="rgba(255,70,70,0.42)" stroke-width="3.0" stroke-linecap="round"/>
<line x1="145.0" y1="605.0" x2="203.8" y2="583.2" stroke="rgba(255,70,70,0.42)" stroke-width="3.0" stroke-linecap="round"/>
<line x1="160.0" y1="607.0" x2="212.3" y2="592.2" stroke="rgba(255,70,70,0.42)" stroke-width="3.0" stroke-linecap="round"/>
<line x1="175.0" y1="603.0" x2="231.9" y2="572.8" stroke="rgba(255,70,70,0.42)" stroke-width="3.0" stroke-linecap="round"/>
<line x1="190.0" y1="603.0" x2="266.2" y2="569.7" stroke="rgba(255,70,70,0.42)" stroke-width="3.0" stroke-linecap="round"/>
<line x1="195.0" y1="600.0" x2="274.6" y2="566.1" stroke="rgba(255,70,70,0.42)" stroke-width="3.0" stroke-linecap="round"/>
<line x1="200.0" y1="602.0" x2="278.3" y2="562.6" stroke="rgba(255,70,70,0.42)" stroke-width="3.0" stroke-linecap="round"/>
<line x1="205.0" y1="598.0" x2="285.3" y2="558.3" stroke="rgba(255,70,70,0.42)" stroke-width="3.0" stroke-linecap="round"/>
<line x1="195.0" y1="595.0" x2="279.6" y2="545.5" stroke="rgba(255,70,70,0.42)" stroke-width="3.0" stroke-linecap="round"/>
<line x1="215.0" y1="598.0" x2="295.4" y2="567.3" stroke="rgba(255,70,70,0.42)" stroke-width="3.0" stroke-linecap="round"/>
<line x1="225.0" y1="600.0" x2="294.7" y2="579.4" stroke="rgba(255,70,70,0.42)" stroke-width="3.0" stroke-linecap="round"/>
<line x1="230.0" y1="602.0" x2="302.5" y2="583.6" stroke="rgba(255,70,70,0.42)" stroke-width="3.0" stroke-linecap="round"/>
<line x1="240.0" y1="605.0" x2="303.9" y2="597.3" stroke="rgba(255,70,70,0.42)" stroke-width="3.0" stroke-linecap="round"/>
<line x1="220.0" y1="604.0" x2="289.7" y2="585.2" stroke="rgba(255,70,70,0.42)" stroke-width="3.0" stroke-linecap="round"/>
<line x1="245.0" y1="603.0" x2="302.8" y2="593.3" stroke="rgba(255,70,70,0.42)" stroke-width="3.0" stroke-linecap="round"/>
<line x1="185.0" y1="598.0" x2="267.2" y2="552.9" stroke="rgba(255,70,70,0.42)" stroke-width="3.0" stroke-linecap="round"/>
<line x1="170.0" y1="600.0" x2="236.6" y2="556.9" stroke="rgba(255,70,70,0.42)" stroke-width="3.0" stroke-linecap="round"/>
<line x1="155.0" y1="598.0" x2="211.9" y2="559.6" stroke="rgba(255,70,70,0.42)" stroke-width="3.0" stroke-linecap="round"/>
<line x1="180.0" y1="602.0" x2="247.3" y2="565.3" stroke="rgba(255,70,70,0.42)" stroke-width="3.0" stroke-linecap="round"/>
<line x1="160.0" y1="604.0" x2="226.9" y2="585.6" stroke="rgba(255,70,70,0.42)" stroke-width="3.0" stroke-linecap="round"/>
<line x1="175.0" y1="606.0" x2="234.5" y2="588.2" stroke="rgba(255,70,70,0.42)" stroke-width="3.0" stroke-linecap="round"/>
<line x1="140.0" y1="600.0" x2="175.2" y2="586.1" stroke="rgba(255,70,70,0.42)" stroke-width="3.0" stroke-linecap="round"/>
<line x1="120.0" y1="604.0" x2="166.7" y2="590.5" stroke="rgba(255,70,70,0.42)" stroke-width="3.0" stroke-linecap="round"/>
<line x1="110.0" y1="606.0" x2="160.3" y2="594.1" stroke="rgba(255,70,70,0.42)" stroke-width="3.0" stroke-linecap="round"/>
<line x1="180.0" y1="606.0" x2="250.0" y2="590.0" stroke="rgba(255,70,70,0.42)" stroke-width="3.0" stroke-linecap="round"/>
<line x1="200.0" y1="606.0" x2="262.0" y2="596.0" stroke="rgba(255,70,70,0.42)" stroke-width="3.0" stroke-linecap="round"/>
<line x1="210.0" y1="604.0" x2="280.0" y2="590.0" stroke="rgba(255,70,70,0.42)" stroke-width="3.0" stroke-linecap="round"/>
<line x1="155.0" y1="606.0" x2="245.0" y2="580.0" stroke="rgba(255,70,70,0.42)" stroke-width="3.0" stroke-linecap="round"/>
<line x1="53.0" y1="606.0" x2="150.0" y2="598.0" stroke="rgba(255,70,70,0.42)" stroke-width="3.0" stroke-linecap="round"/>
<line x1="53.0" y1="608.0" x2="170.0" y2="600.0" stroke="rgba(255,70,70,0.42)" stroke-width="3.0" stroke-linecap="round"/>
<line x1="53.0" y1="610.0" x2="160.0" y2="604.0" stroke="rgba(255,70,70,0.42)" stroke-width="3.0" stroke-linecap="round"/>
<line x1="53.0" y1="612.0" x2="140.0" y2="607.0" stroke="rgba(255,70,70,0.42)" stroke-width="3.0" stroke-linecap="round"/>
<line x1="60.0" y1="611.0" x2="180.0" y2="604.0" stroke="rgba(255,70,70,0.42)" stroke-width="3.0" stroke-linecap="round"/>
<line x1="53.0" y1="604.0" x2="130.0" y2="600.0" stroke="rgba(255,70,70,0.42)" stroke-width="3.0" stroke-linecap="round"/>
<line x1="80.0" y1="612.0" x2="200.0" y2="606.0" stroke="rgba(255,70,70,0.42)" stroke-width="3.0" stroke-linecap="round"/>
<line x1="100.0" y1="612.0" x2="230.0" y2="607.0" stroke="rgba(255,70,70,0.42)" stroke-width="3.0" stroke-linecap="round"/>
<line x1="120.0" y1="611.0" x2="250.0" y2="605.0" stroke="rgba(255,70,70,0.42)" stroke-width="3.0" stroke-linecap="round"/>
<line x1="140.0" y1="610.0" x2="270.0" y2="604.0" stroke="rgba(255,70,70,0.42)" stroke-width="3.0" stroke-linecap="round"/>
<line x1="150.0" y1="612.0" x2="260.0" y2="608.0" stroke="rgba(255,70,70,0.42)" stroke-width="3.0" stroke-linecap="round"/>
<line x1="53.0" y1="607.0" x2="110.0" y2="605.0" stroke="rgba(255,70,70,0.42)" stroke-width="3.0" stroke-linecap="round"/>
<line x1="70.0" y1="609.0" x2="190.0" y2="603.0" stroke="rgba(255,70,70,0.42)" stroke-width="3.0" stroke-linecap="round"/>
<line x1="90.0" y1="611.0" x2="210.0" y2="605.0" stroke="rgba(255,70,70,0.42)" stroke-width="3.0" stroke-linecap="round"/>
<line x1="110.0" y1="609.0" x2="220.0" y2="603.0" stroke="rgba(255,70,70,0.42)" stroke-width="3.0" stroke-linecap="round"/>
<line x1="130.0" y1="611.0" x2="240.0" y2="606.0" stroke="rgba(255,70,70,0.42)" stroke-width="3.0" stroke-linecap="round"/>
<line x1="160.0" y1="611.0" x2="280.0" y2="605.0" stroke="rgba(255,70,70,0.42)" stroke-width="3.0" stroke-linecap="round"/>
<line x1="180.0" y1="610.0" x2="290.0" y2="606.0" stroke="rgba(255,70,70,0.42)" stroke-width="3.0" stroke-linecap="round"/>
<line x1="200.0" y1="611.0" x2="300.0" y2="607.0" stroke="rgba(255,70,70,0.42)" stroke-width="3.0" stroke-linecap="round"/>
<line x1="60.0" y1="606.0" x2="175.2" y2="586.1" stroke="rgba(255,70,70,0.42)" stroke-width="3.0" stroke-linecap="round"/>
<line x1="75.0" y1="608.0" x2="166.7" y2="590.5" stroke="rgba(255,70,70,0.42)" stroke-width="3.0" stroke-linecap="round"/>
<line x1="70.0" y1="609.0" x2="160.3" y2="594.1" stroke="rgba(255,70,70,0.42)" stroke-width="3.0" stroke-linecap="round"/>
<line x1="249.4" y1="545.9" x2="308.6" y2="562.1" stroke="rgba(150,210,120,0.45)" stroke-width="3.0" stroke-linecap="round"/>
<line x1="240.6" y1="572.4" x2="302.5" y2="577.8" stroke="rgba(150,210,120,0.45)" stroke-width="3.0" stroke-linecap="round"/>
<line x1="244.6" y1="565.7" x2="294.4" y2="573.8" stroke="rgba(150,210,120,0.45)" stroke-width="3.0" stroke-linecap="round"/>
<line x1="250.7" y1="585.2" x2="317.3" y2="598.0" stroke="rgba(150,210,120,0.45)" stroke-width="3.0" stroke-linecap="round"/>
<line x1="271.1" y1="584.6" x2="308.6" y2="589.3" stroke="rgba(150,210,120,0.45)" stroke-width="3.0" stroke-linecap="round"/>
<line x1="281.7" y1="592.2" x2="320.0" y2="603.0" stroke="rgba(150,210,120,0.45)" stroke-width="3.0" stroke-linecap="round"/>
<line x1="248.4" y1="577.8" x2="302.0" y2="590.0" stroke="rgba(150,210,120,0.45)" stroke-width="3.0" stroke-linecap="round"/>
<line x1="260.0" y1="588.0" x2="322.0" y2="606.0" stroke="rgba(150,210,120,0.45)" stroke-width="3.0" stroke-linecap="round"/>
<line x1="270.0" y1="590.0" x2="325.0" y2="607.0" stroke="rgba(150,210,120,0.45)" stroke-width="3.0" stroke-linecap="round"/>
<line x1="285.0" y1="595.0" x2="325.0" y2="608.0" stroke="rgba(150,210,120,0.45)" stroke-width="3.0" stroke-linecap="round"/>
<line x1="286.4" y1="573.1" x2="302.5" y2="577.8" stroke="rgba(150,210,120,0.45)" stroke-width="3.0" stroke-linecap="round"/>
<line x1="255.0" y1="580.0" x2="309.3" y2="589.3" stroke="rgba(150,210,120,0.45)" stroke-width="3.0" stroke-linecap="round"/>
<line x1="265.0" y1="585.0" x2="317.0" y2="600.0" stroke="rgba(150,210,120,0.45)" stroke-width="3.0" stroke-linecap="round"/>
<line x1="275.0" y1="588.0" x2="323.0" y2="604.0" stroke="rgba(150,210,120,0.45)" stroke-width="3.0" stroke-linecap="round"/>
<path d="M53.0,608.0 C57.5,607.8 68.8,607.1 80.0,606.5 C91.2,605.9 107.5,605.2 120.0,604.2 C132.5,603.2 145.7,601.9 155.0,600.7 C164.3,599.5 168.6,598.5 176.1,597.2 C183.6,595.9 194.2,594.2 200.0,593.0 C205.8,591.8 204.3,591.4 211.0,589.9 C217.7,588.4 231.7,584.6 239.9,583.9 C248.1,583.2 252.5,584.5 260.0,585.9 C267.5,587.2 278.1,589.8 285.0,592.0 C291.9,594.2 298.5,598.2 301.2,599.4" fill="none" stroke="#4a2f9a" stroke-width="1.0"/>
<path d="M301.2,599.4 C303.0,600.2 308.6,602.5 312.0,604.0 C315.4,605.5 319.8,607.4 321.4,608.1" fill="none" stroke="#4a2f9a" stroke-width="1.0" stroke-dasharray="4,3"/>
<circle cx="119.5" cy="497.5" r="0.90" fill="#3AA8C8"/>
<circle cx="107.3" cy="594.9" r="2.20" fill="#FF6600"/>
<circle cx="102.6" cy="599.6" r="1.00" fill="#3AA8C8"/>
<circle cx="79.6" cy="605.4" r="2.00" fill="#3AA8C8"/>
<circle cx="89.4" cy="606.8" r="3.00" fill="#FF6600"/>
<circle cx="109.1" cy="606.6" r="2.50" fill="#3AA8C8"/>
<circle cx="104.2" cy="608.9" r="1.80" fill="#3AA8C8"/>
<circle cx="113.1" cy="606.0" r="1.50" fill="#FF6600"/>
<circle cx="175.2" cy="586.1" r="2.50" fill="#3AA8C8"/>
<circle cx="166.7" cy="590.5" r="1.50" fill="#3AA8C8"/>
<circle cx="160.3" cy="594.1" r="1.60" fill="#3AA8C8"/>
<circle cx="154.8" cy="590.8" r="1.20" fill="#3AA8C8"/>
<circle cx="179.8" cy="585.0" r="0.80" fill="#3AA8C8"/>
<circle cx="194.5" cy="590.0" r="1.20" fill="#3AA8C8"/>
<circle cx="140.8" cy="597.2" r="1.30" fill="#FF6600"/>
<circle cx="175.8" cy="593.7" r="1.50" fill="#FF6600"/>
<circle cx="185.4" cy="599.0" r="1.80" fill="#FF6600"/>
<circle cx="139.9" cy="608.0" r="1.30" fill="#FF6600"/>
<circle cx="145.5" cy="606.8" r="1.20" fill="#FF6600"/>
<circle cx="157.6" cy="606.0" r="1.50" fill="#FF6600"/>
<circle cx="126.1" cy="603.1" r="1.20" fill="#3AA8C8"/>
<circle cx="131.1" cy="601.7" r="1.00" fill="#3AA8C8"/>
<circle cx="128.4" cy="607.5" r="0.80" fill="#3AA8C8"/>
<circle cx="236.3" cy="542.4" r="2.70" fill="#3AA8C8"/>
<circle cx="239.3" cy="533.8" r="0.80" fill="#3AA8C8"/>
<circle cx="249.4" cy="545.9" r="2.30" fill="#FF6600"/>
<circle cx="221.1" cy="552.9" r="1.80" fill="#3AA8C8"/>
<circle cx="236.6" cy="556.9" r="1.00" fill="#3AA8C8"/>
<circle cx="193.5" cy="566.4" r="2.50" fill="#3AA8C8"/>
<circle cx="204.6" cy="572.8" r="3.00" fill="#3AA8C8"/>
<circle cx="203.8" cy="583.2" r="3.20" fill="#3AA8C8"/>
<circle cx="212.3" cy="592.2" r="3.20" fill="#3AA8C8"/>
<circle cx="231.9" cy="572.8" r="2.80" fill="#3AA8C8"/>
<circle cx="211.9" cy="559.6" r="0.80" fill="#3AA8C8"/>
<circle cx="194.5" cy="589.7" r="1.20" fill="#3AA8C8"/>
<circle cx="234.5" cy="588.2" r="1.50" fill="#3AA8C8"/>
<circle cx="248.4" cy="577.8" r="2.80" fill="#FF6600"/>
<circle cx="185.4" cy="599.1" r="1.80" fill="#FF6600"/>
<circle cx="226.9" cy="585.6" r="1.20" fill="#FF6600"/>
<circle cx="250.7" cy="585.0" r="1.50" fill="#FF6600"/>
<circle cx="251.4" cy="597.3" r="1.30" fill="#FF6600"/>
<circle cx="247.3" cy="565.3" r="1.00" fill="#FF6600"/>
<circle cx="249.8" cy="580.9" r="1.00" fill="#3AA8C8"/>
<circle cx="279.6" cy="545.5" r="1.80" fill="#3AA8C8"/>
<circle cx="285.3" cy="558.3" r="2.00" fill="#3AA8C8"/>
<circle cx="278.3" cy="562.6" r="2.30" fill="#3AA8C8"/>
<circle cx="274.6" cy="566.1" r="2.80" fill="#3AA8C8"/>
<circle cx="266.2" cy="569.7" r="3.30" fill="#3AA8C8"/>
<circle cx="295.4" cy="567.3" r="3.00" fill="#3AA8C8"/>
<circle cx="294.7" cy="579.4" r="2.00" fill="#3AA8C8"/>
<circle cx="302.5" cy="583.6" r="1.80" fill="#3AA8C8"/>
<circle cx="289.7" cy="585.2" r="1.50" fill="#3AA8C8"/>
<circle cx="308.6" cy="589.3" r="1.20" fill="#3AA8C8"/>
<circle cx="302.8" cy="593.3" r="1.80" fill="#3AA8C8"/>
<circle cx="303.9" cy="597.3" r="1.80" fill="#3AA8C8"/>
<circle cx="317.3" cy="598.0" r="1.80" fill="#3AA8C8"/>
<circle cx="302.3" cy="577.4" r="1.00" fill="#3AA8C8"/>
<circle cx="267.2" cy="552.9" r="1.00" fill="#3AA8C8"/>
<circle cx="283.0" cy="574.0" r="0.80" fill="#3AA8C8"/>
<circle cx="308.6" cy="562.1" r="2.30" fill="#3AA8C8"/>
<circle cx="268.5" cy="556.9" r="1.80" fill="#FF6600"/>
<circle cx="271.1" cy="584.6" r="2.80" fill="#FF6600"/>
<circle cx="250.7" cy="585.2" r="2.00" fill="#FF6600"/>
<circle cx="261.4" cy="588.6" r="1.30" fill="#FF6600"/>
<circle cx="274.2" cy="580.9" r="1.00" fill="#FF6600"/>
<circle cx="251.6" cy="597.3" r="1.80" fill="#FF6600"/>
<circle cx="258.8" cy="602.1" r="1.30" fill="#FF6600"/>
<circle cx="281.7" cy="592.2" r="3.50" fill="#FF6600"/>
<circle cx="143.8" cy="526.9" r="5.10" fill="#3AA8C8"/>
<circle cx="194.6" cy="521.7" r="4.00" fill="#3AA8C8"/>
<circle cx="320.0" cy="602.0" r="1.20" fill="#3AA8C8"/>
<circle cx="312.0" cy="600.0" r="1.00" fill="#3AA8C8"/>
<circle cx="322.0" cy="606.0" r="0.90" fill="#3AA8C8"/>
<circle cx="172.0" cy="571.0" r="1.00" fill="#FF6600"/>
<circle cx="253.4" cy="387.8" r="1.00" fill="#3AA8C8"/>
<circle cx="165.0" cy="600.0" r="1.00" fill="#FF6600"/>
<circle cx="175.0" cy="598.0" r="1.00" fill="#FF6600"/>
<circle cx="185.0" cy="596.0" r="1.00" fill="#FF6600"/>
<circle cx="170.0" cy="597.0" r="1.00" fill="#FF6600"/>
<circle cx="150.0" cy="603.0" r="1.00" fill="#FF6600"/>
<circle cx="160.0" cy="601.0" r="1.00" fill="#FF6600"/>
<circle cx="130.0" cy="590.0" r="1.00" fill="#FF6600"/>
<circle cx="150.0" cy="600.0" r="1.00" fill="#FF6600"/>
<circle cx="160.0" cy="607.0" r="1.00" fill="#FF6600"/>
<circle cx="175.0" cy="603.0" r="1.00" fill="#FF6600"/>
<circle cx="190.0" cy="603.0" r="1.00" fill="#FF6600"/>
<circle cx="195.0" cy="600.0" r="1.00" fill="#FF6600"/>
<circle cx="200.0" cy="602.0" r="1.00" fill="#FF6600"/>
<circle cx="205.0" cy="598.0" r="1.00" fill="#FF6600"/>
<circle cx="195.0" cy="595.0" r="1.00" fill="#FF6600"/>
<circle cx="215.0" cy="598.0" r="1.00" fill="#FF6600"/>
<circle cx="225.0" cy="600.0" r="1.00" fill="#FF6600"/>
<circle cx="230.0" cy="602.0" r="1.00" fill="#FF6600"/>
<circle cx="240.0" cy="605.0" r="1.00" fill="#FF6600"/>
<circle cx="220.0" cy="604.0" r="1.00" fill="#FF6600"/>
<circle cx="245.0" cy="603.0" r="1.00" fill="#FF6600"/>
<circle cx="170.0" cy="600.0" r="1.00" fill="#FF6600"/>
<circle cx="155.0" cy="598.0" r="1.00" fill="#FF6600"/>
<circle cx="180.0" cy="602.0" r="1.00" fill="#FF6600"/>
<circle cx="160.0" cy="604.0" r="1.00" fill="#FF6600"/>
<circle cx="175.0" cy="606.0" r="1.00" fill="#FF6600"/>
<circle cx="140.0" cy="600.0" r="1.00" fill="#FF6600"/>
<circle cx="120.0" cy="604.0" r="1.00" fill="#FF6600"/>
<circle cx="180.0" cy="606.0" r="1.00" fill="#FF6600"/>
<circle cx="250.0" cy="590.0" r="1.00" fill="#3AA8C8"/>
<circle cx="200.0" cy="606.0" r="1.00" fill="#FF6600"/>
<circle cx="262.0" cy="596.0" r="1.00" fill="#3AA8C8"/>
<circle cx="210.0" cy="604.0" r="1.00" fill="#FF6600"/>
<circle cx="280.0" cy="590.0" r="1.00" fill="#3AA8C8"/>
<circle cx="155.0" cy="606.0" r="1.00" fill="#FF6600"/>
<circle cx="245.0" cy="580.0" r="1.00" fill="#3AA8C8"/>
<circle cx="80.0" cy="612.0" r="1.00" fill="#FF6600"/>
<circle cx="100.0" cy="612.0" r="1.00" fill="#FF6600"/>
<circle cx="230.0" cy="607.0" r="1.00" fill="#3AA8C8"/>
<circle cx="120.0" cy="611.0" r="1.00" fill="#FF6600"/>
<circle cx="250.0" cy="605.0" r="1.00" fill="#3AA8C8"/>
<circle cx="270.0" cy="604.0" r="1.00" fill="#3AA8C8"/>
<circle cx="150.0" cy="612.0" r="1.00" fill="#FF6600"/>
<circle cx="260.0" cy="608.0" r="1.00" fill="#3AA8C8"/>
<circle cx="90.0" cy="611.0" r="1.00" fill="#FF6600"/>
<circle cx="110.0" cy="609.0" r="1.00" fill="#FF6600"/>
<circle cx="130.0" cy="611.0" r="1.00" fill="#FF6600"/>
<circle cx="160.0" cy="611.0" r="1.00" fill="#FF6600"/>
<circle cx="280.0" cy="605.0" r="1.00" fill="#3AA8C8"/>
<circle cx="180.0" cy="610.0" r="1.00" fill="#FF6600"/>
<circle cx="290.0" cy="606.0" r="1.00" fill="#3AA8C8"/>
<circle cx="200.0" cy="611.0" r="1.00" fill="#FF6600"/>
<circle cx="300.0" cy="607.0" r="1.00" fill="#3AA8C8"/>
<circle cx="75.0" cy="608.0" r="1.00" fill="#FF6600"/>
<circle cx="240.6" cy="572.4" r="1.00" fill="#FF6600"/>
<circle cx="244.6" cy="565.7" r="1.00" fill="#FF6600"/>
<circle cx="294.4" cy="573.8" r="1.00" fill="#3AA8C8"/>
<circle cx="302.0" cy="590.0" r="1.00" fill="#3AA8C8"/>
<circle cx="270.0" cy="590.0" r="1.00" fill="#FF6600"/>
<circle cx="325.0" cy="607.0" r="1.00" fill="#3AA8C8"/>
<circle cx="285.0" cy="595.0" r="1.00" fill="#FF6600"/>
<circle cx="286.4" cy="573.1" r="1.00" fill="#FF6600"/>
<circle cx="255.0" cy="580.0" r="1.00" fill="#FF6600"/>
<circle cx="265.0" cy="585.0" r="1.00" fill="#FF6600"/>
<circle cx="275.0" cy="588.0" r="1.00" fill="#FF6600"/>
<line x1="238.6" y1="540.8" x2="249.4" y2="534.7" stroke="#1a1a1a" stroke-width="1.15" />
<line x1="157.4" y1="613.8" x2="204.6" y2="572.8" stroke="#1a1a1a" stroke-width="1.15" />
<line x1="195.5" y1="609.5" x2="202.9" y2="586.6" stroke="#1a1a1a" stroke-width="1.15" />
<line x1="213.0" y1="608.1" x2="212.5" y2="595.0" stroke="#1a1a1a" stroke-width="1.15" />
<line x1="233.9" y1="575.5" x2="255.4" y2="609.5" stroke="#1a1a1a" stroke-width="1.15" />
<line x1="282.5" y1="596.0" x2="285.0" y2="601.0" stroke="#1a1a1a" stroke-width="1.15" />
<circle cx="166.4" cy="570.8" r="9.30" fill="#FF6600"/>
<circle cx="169.3" cy="575.3" r="10.00" fill="#3AA8C8"/>
<text x="160.8" y="578.5" font-size="8.8" font-family="Liberation Sans, sans-serif" font-weight="normal" text-anchor="start" textLength="16.1" lengthAdjust="spacingAndGlyphs" fill="#000" stroke="#000" stroke-width="0.25">India</text>
<text x="81.6" y="610.7" font-size="8" font-family="Liberation Sans, sans-serif" font-weight="bold" text-anchor="start" textLength="15.5" lengthAdjust="spacingAndGlyphs" fill="#000" stroke="#000" stroke-width="0.25">India</text>
<text x="122.9" y="519.3" font-size="8.8" font-family="Liberation Sans, sans-serif" font-weight="normal" text-anchor="start" textLength="39.5" lengthAdjust="spacingAndGlyphs" fill="#111" stroke="#111" stroke-width="0.12">Bangladesh</text>
<text x="181.8" y="516.0" font-size="8.8" font-family="Liberation Sans, sans-serif" font-weight="normal" text-anchor="start" textLength="30.6" lengthAdjust="spacingAndGlyphs" fill="#111" stroke="#111" stroke-width="0.12">Viet Nam</text>
<text x="253.1" y="532.5" font-size="8.8" font-family="Liberation Sans, sans-serif" font-weight="normal" text-anchor="start" textLength="28.7" lengthAdjust="spacingAndGlyphs" fill="#111" stroke="#111" stroke-width="0.12">Thailand</text>
<text x="187.8" y="561.9" font-size="8.8" font-family="Liberation Sans, sans-serif" font-weight="normal" text-anchor="start" textLength="12.7" lengthAdjust="spacingAndGlyphs" fill="#111" stroke="#111" stroke-width="0.12">Iran</text>
<text x="299.2" y="558.3" font-size="8.8" font-family="Liberation Sans, sans-serif" font-weight="normal" text-anchor="start" textLength="19.9" lengthAdjust="spacingAndGlyphs" fill="#111" stroke="#111" stroke-width="0.12">Korea</text>
<text x="91.5" y="592.2" font-size="8.8" font-family="Liberation Sans, sans-serif" font-weight="normal" text-anchor="start" textLength="30.4" lengthAdjust="spacingAndGlyphs" fill="#111" stroke="#111" stroke-width="0.12">Viet Nam</text>
<text x="284.6" y="607.9" font-size="8.8" font-family="Liberation Sans, sans-serif" font-weight="normal" text-anchor="start" textLength="15.0" lengthAdjust="spacingAndGlyphs" fill="#111" stroke="#111" stroke-width="0.12">USA</text>
<text x="133.6" y="617.8" font-size="8.8" font-family="Liberation Sans, sans-serif" font-weight="normal" text-anchor="start" textLength="19.5" lengthAdjust="spacingAndGlyphs" fill="#111" stroke="#111" stroke-width="0.12">Egypt</text>
<text x="175.0" y="617.8" font-size="8.8" font-family="Liberation Sans, sans-serif" font-weight="normal" text-anchor="start" textLength="18.9" lengthAdjust="spacingAndGlyphs" fill="#111" stroke="#111" stroke-width="0.12">Brazil</text>
<text x="207.2" y="617.8" font-size="8.8" font-family="Liberation Sans, sans-serif" font-weight="normal" text-anchor="start" textLength="32.8" lengthAdjust="spacingAndGlyphs" fill="#111" stroke="#111" stroke-width="0.12">Indonesia</text>
<text x="259.2" y="617.8" font-size="8.8" font-family="Liberation Sans, sans-serif" font-weight="normal" text-anchor="start" textLength="23.5" lengthAdjust="spacingAndGlyphs" fill="#111" stroke="#111" stroke-width="0.12">Mexico</text>
<line x1="406.3" y1="571.7" x2="460.6" y2="581.0" stroke="rgba(150,210,120,0.45)" stroke-width="3.0" stroke-linecap="round"/>
<line x1="398.0" y1="609.0" x2="484.5" y2="588.6" stroke="rgba(255,70,70,0.42)" stroke-width="3.0" stroke-linecap="round"/>
<line x1="447.7" y1="594.8" x2="535.3" y2="587.3" stroke="rgba(255,70,70,0.42)" stroke-width="3.0" stroke-linecap="round"/>
<line x1="507.4" y1="571.2" x2="594.1" y2="550.4" stroke="rgba(255,70,70,0.42)" stroke-width="3.0" stroke-linecap="round"/>
<line x1="590.4" y1="545.9" x2="649.3" y2="598.8" stroke="rgba(150,210,120,0.45)" stroke-width="3.0" stroke-linecap="round"/>
<line x1="609.1" y1="557.1" x2="662.4" y2="609.7" stroke="rgba(150,210,120,0.45)" stroke-width="3.0" stroke-linecap="round"/>
<line x1="594.1" y1="550.4" x2="660.0" y2="608.0" stroke="rgba(150,210,120,0.45)" stroke-width="3.0" stroke-linecap="round"/>
<line x1="588.1" y1="565.2" x2="655.0" y2="607.0" stroke="rgba(150,210,120,0.45)" stroke-width="3.0" stroke-linecap="round"/>
<line x1="581.5" y1="572.2" x2="650.0" y2="606.0" stroke="rgba(150,210,120,0.45)" stroke-width="3.0" stroke-linecap="round"/>
<line x1="589.4" y1="578.1" x2="645.0" y2="604.0" stroke="rgba(150,210,120,0.45)" stroke-width="3.0" stroke-linecap="round"/>
<line x1="591.4" y1="585.0" x2="640.0" y2="606.0" stroke="rgba(150,210,120,0.45)" stroke-width="3.0" stroke-linecap="round"/>
<line x1="611.7" y1="584.5" x2="658.2" y2="608.8" stroke="rgba(150,210,120,0.45)" stroke-width="3.0" stroke-linecap="round"/>
<line x1="615.1" y1="580.6" x2="650.0" y2="604.0" stroke="rgba(150,210,120,0.45)" stroke-width="3.0" stroke-linecap="round"/>
<line x1="622.1" y1="592.4" x2="662.0" y2="610.0" stroke="rgba(150,210,120,0.45)" stroke-width="3.0" stroke-linecap="round"/>
<line x1="566.1" y1="580.8" x2="626.3" y2="597.9" stroke="rgba(150,210,120,0.45)" stroke-width="3.0" stroke-linecap="round"/>
<line x1="567.9" y1="585.7" x2="635.9" y2="599.9" stroke="rgba(150,210,120,0.45)" stroke-width="3.0" stroke-linecap="round"/>
<line x1="586.4" y1="593.7" x2="642.3" y2="604.6" stroke="rgba(150,210,120,0.45)" stroke-width="3.0" stroke-linecap="round"/>
<line x1="602.0" y1="588.7" x2="649.3" y2="605.0" stroke="rgba(150,210,120,0.45)" stroke-width="3.0" stroke-linecap="round"/>
<line x1="592.3" y1="597.1" x2="635.0" y2="606.0" stroke="rgba(150,210,120,0.45)" stroke-width="3.0" stroke-linecap="round"/>
<line x1="599.5" y1="602.1" x2="640.0" y2="609.0" stroke="rgba(150,210,120,0.45)" stroke-width="3.0" stroke-linecap="round"/>
<line x1="555.8" y1="592.0" x2="618.8" y2="599.1" stroke="rgba(150,210,120,0.45)" stroke-width="3.0" stroke-linecap="round"/>
<line x1="565.0" y1="590.0" x2="615.1" y2="599.6" stroke="rgba(150,210,120,0.45)" stroke-width="3.0" stroke-linecap="round"/>
<line x1="551.5" y1="592.5" x2="607.0" y2="600.8" stroke="rgba(150,210,120,0.45)" stroke-width="3.0" stroke-linecap="round"/>
<line x1="575.0" y1="588.0" x2="630.0" y2="602.0" stroke="rgba(150,210,120,0.45)" stroke-width="3.0" stroke-linecap="round"/>
<line x1="540.0" y1="596.0" x2="600.0" y2="604.0" stroke="rgba(150,210,120,0.45)" stroke-width="3.0" stroke-linecap="round"/>
<line x1="530.0" y1="600.0" x2="590.0" y2="606.0" stroke="rgba(150,210,120,0.45)" stroke-width="3.0" stroke-linecap="round"/>
<line x1="520.0" y1="601.0" x2="580.0" y2="606.0" stroke="rgba(150,210,120,0.45)" stroke-width="3.0" stroke-linecap="round"/>
<line x1="510.0" y1="603.0" x2="575.0" y2="607.0" stroke="rgba(150,210,120,0.45)" stroke-width="3.0" stroke-linecap="round"/>
<line x1="500.0" y1="604.0" x2="560.0" y2="607.0" stroke="rgba(150,210,120,0.45)" stroke-width="3.0" stroke-linecap="round"/>
<line x1="481.6" y1="597.8" x2="509.4" y2="598.1" stroke="rgba(150,210,120,0.45)" stroke-width="3.0" stroke-linecap="round"/>
<line x1="509.4" y1="598.1" x2="540.0" y2="599.0" stroke="rgba(150,210,120,0.45)" stroke-width="3.0" stroke-linecap="round"/>
<line x1="394.0" y1="606.3" x2="470.0" y2="605.5" stroke="rgba(150,210,120,0.45)" stroke-width="3.0" stroke-linecap="round"/>
<line x1="394.0" y1="605.0" x2="440.0" y2="604.5" stroke="rgba(150,210,120,0.45)" stroke-width="3.0" stroke-linecap="round"/>
<line x1="420.0" y1="606.0" x2="500.0" y2="605.0" stroke="rgba(150,210,120,0.45)" stroke-width="3.0" stroke-linecap="round"/>
<line x1="450.0" y1="606.5" x2="530.0" y2="605.0" stroke="rgba(150,210,120,0.45)" stroke-width="3.0" stroke-linecap="round"/>
<line x1="394.0" y1="609.0" x2="480.0" y2="606.0" stroke="rgba(255,70,70,0.42)" stroke-width="3.0" stroke-linecap="round"/>
<line x1="394.0" y1="611.0" x2="500.0" y2="608.0" stroke="rgba(255,70,70,0.42)" stroke-width="3.0" stroke-linecap="round"/>
<line x1="394.0" y1="612.5" x2="520.0" y2="610.0" stroke="rgba(255,70,70,0.42)" stroke-width="3.0" stroke-linecap="round"/>
<line x1="400.0" y1="610.0" x2="530.0" y2="604.0" stroke="rgba(255,70,70,0.42)" stroke-width="3.0" stroke-linecap="round"/>
<line x1="410.0" y1="612.0" x2="540.0" y2="608.0" stroke="rgba(255,70,70,0.42)" stroke-width="3.0" stroke-linecap="round"/>
<line x1="430.0" y1="609.0" x2="550.0" y2="603.0" stroke="rgba(255,70,70,0.42)" stroke-width="3.0" stroke-linecap="round"/>
<line x1="440.0" y1="611.0" x2="560.0" y2="606.0" stroke="rgba(255,70,70,0.42)" stroke-width="3.0" stroke-linecap="round"/>
<line x1="460.0" y1="609.0" x2="570.0" y2="604.0" stroke="rgba(255,70,70,0.42)" stroke-width="3.0" stroke-linecap="round"/>
<line x1="470.0" y1="611.0" x2="580.0" y2="607.0" stroke="rgba(255,70,70,0.42)" stroke-width="3.0" stroke-linecap="round"/>
<line x1="480.0" y1="608.0" x2="590.0" y2="603.0" stroke="rgba(255,70,70,0.42)" stroke-width="3.0" stroke-linecap="round"/>
<line x1="490.0" y1="611.0" x2="590.0" y2="609.0" stroke="rgba(255,70,70,0.42)" stroke-width="3.0" stroke-linecap="round"/>
<line x1="500.0" y1="607.0" x2="585.0" y2="600.0" stroke="rgba(255,70,70,0.42)" stroke-width="3.0" stroke-linecap="round"/>
<line x1="510.0" y1="610.0" x2="590.0" y2="606.0" stroke="rgba(255,70,70,0.42)" stroke-width="3.0" stroke-linecap="round"/>
<line x1="520.0" y1="606.0" x2="585.0" y2="598.0" stroke="rgba(255,70,70,0.42)" stroke-width="3.0" stroke-linecap="round"/>
<line x1="430.0" y1="612.0" x2="520.0" y2="611.0" stroke="rgba(255,70,70,0.42)" stroke-width="3.0" stroke-linecap="round"/>
<line x1="394.0" y1="608.0" x2="460.0" y2="607.0" stroke="rgba(255,70,70,0.42)" stroke-width="3.0" stroke-linecap="round"/>
<line x1="420.0" y1="607.5" x2="510.0" y2="603.0" stroke="rgba(255,70,70,0.42)" stroke-width="3.0" stroke-linecap="round"/>
<line x1="450.0" y1="603.0" x2="540.0" y2="598.0" stroke="rgba(255,70,70,0.42)" stroke-width="3.0" stroke-linecap="round"/>
<line x1="470.0" y1="602.0" x2="550.0" y2="597.0" stroke="rgba(255,70,70,0.42)" stroke-width="3.0" stroke-linecap="round"/>
<line x1="500.0" y1="600.0" x2="560.0" y2="594.0" stroke="rgba(255,70,70,0.42)" stroke-width="3.0" stroke-linecap="round"/>
<line x1="520.0" y1="598.0" x2="575.0" y2="596.0" stroke="rgba(255,70,70,0.42)" stroke-width="3.0" stroke-linecap="round"/>
<line x1="415.0" y1="609.5" x2="545.0" y2="604.7" stroke="rgba(255,70,70,0.42)" stroke-width="3.0" stroke-linecap="round"/>
<line x1="455.0" y1="610.0" x2="552.8" y2="606.6" stroke="rgba(255,70,70,0.42)" stroke-width="3.0" stroke-linecap="round"/>
<line x1="440.0" y1="606.0" x2="534.0" y2="600.1" stroke="rgba(255,70,70,0.42)" stroke-width="3.0" stroke-linecap="round"/>
<line x1="394.0" y1="612.0" x2="470.0" y2="611.0" stroke="rgba(255,70,70,0.42)" stroke-width="3.0" stroke-linecap="round"/>
<line x1="394.0" y1="610.5" x2="455.0" y2="609.5" stroke="rgba(255,70,70,0.42)" stroke-width="3.0" stroke-linecap="round"/>
<line x1="470.0" y1="607.0" x2="560.0" y2="605.0" stroke="#E0C8A8" stroke-width="3.0" stroke-linecap="round"/>
<path d="M394.0,608.0 C400.0,607.7 417.3,606.7 430.0,606.0 C442.7,605.3 458.3,605.0 470.0,604.0 C481.7,603.0 491.7,601.2 500.0,600.0 C508.3,598.8 512.8,598.1 520.0,596.6 C527.2,595.1 535.6,592.5 543.4,590.8 C551.2,589.0 560.5,587.2 566.7,586.1 C572.9,585.0 575.7,584.4 580.7,584.3 C585.8,584.2 591.5,584.7 597.0,585.7 C602.5,586.7 609.3,589.1 613.8,590.4 C618.3,591.7 622.1,593.2 623.8,593.7" fill="none" stroke="#2a2a9a" stroke-width="1.0"/>
<path d="M623.8,593.7 C627.3,594.9 638.6,598.5 645.0,601.0 C651.4,603.5 659.5,607.5 662.4,608.8" fill="none" stroke="#2a2a9a" stroke-width="1.0" stroke-dasharray="4,3"/>
<circle cx="448.3" cy="594.9" r="2.20" fill="#FF6600"/>
<circle cx="430.4" cy="606.8" r="3.00" fill="#FF6600"/>
<circle cx="454.1" cy="606.0" r="1.50" fill="#FF6600"/>
<circle cx="481.8" cy="597.2" r="1.30" fill="#FF6600"/>
<circle cx="516.8" cy="593.7" r="1.50" fill="#FF6600"/>
<circle cx="526.4" cy="599.0" r="1.80" fill="#FF6600"/>
<circle cx="480.9" cy="608.0" r="1.30" fill="#FF6600"/>
<circle cx="486.5" cy="606.8" r="1.20" fill="#FF6600"/>
<circle cx="498.6" cy="606.0" r="1.50" fill="#FF6600"/>
<circle cx="590.4" cy="545.9" r="2.30" fill="#FF6600"/>
<circle cx="589.4" cy="577.8" r="2.80" fill="#FF6600"/>
<circle cx="526.4" cy="599.1" r="1.80" fill="#FF6600"/>
<circle cx="567.9" cy="585.6" r="1.20" fill="#FF6600"/>
<circle cx="591.7" cy="585.0" r="1.50" fill="#FF6600"/>
<circle cx="592.4" cy="597.3" r="1.30" fill="#FF6600"/>
<circle cx="588.3" cy="565.3" r="1.00" fill="#FF6600"/>
<circle cx="609.5" cy="556.9" r="1.80" fill="#FF6600"/>
<circle cx="612.1" cy="584.6" r="2.80" fill="#FF6600"/>
<circle cx="591.7" cy="585.2" r="2.00" fill="#FF6600"/>
<circle cx="602.4" cy="588.6" r="1.30" fill="#FF6600"/>
<circle cx="615.2" cy="580.9" r="1.00" fill="#FF6600"/>
<circle cx="592.6" cy="597.3" r="1.80" fill="#FF6600"/>
<circle cx="599.8" cy="602.1" r="1.30" fill="#FF6600"/>
<circle cx="622.7" cy="592.2" r="3.50" fill="#FF6600"/>
<circle cx="406.3" cy="571.7" r="0.90" fill="#FF6600"/>
<circle cx="460.6" cy="581.0" r="0.90" fill="#3AA8C8"/>
<circle cx="484.5" cy="588.6" r="2.70" fill="#3AA8C8"/>
<circle cx="535.3" cy="587.3" r="2.10" fill="#3AA8C8"/>
<circle cx="447.7" cy="594.8" r="2.20" fill="#FF6600"/>
<circle cx="481.6" cy="597.8" r="1.50" fill="#FF6600"/>
<circle cx="516.2" cy="593.9" r="1.50" fill="#FF6600"/>
<circle cx="526.2" cy="599.0" r="1.80" fill="#FF6600"/>
<circle cx="551.5" cy="592.2" r="2.00" fill="#FF6600"/>
<circle cx="555.1" cy="591.9" r="1.80" fill="#FF6600"/>
<circle cx="498.6" cy="605.7" r="1.80" fill="#FF6600"/>
<circle cx="480.5" cy="608.4" r="1.50" fill="#FF6600"/>
<circle cx="475.3" cy="606.2" r="1.00" fill="#FF6600"/>
<circle cx="454.1" cy="606.1" r="1.50" fill="#FF6600"/>
<circle cx="468.7" cy="607.0" r="1.30" fill="#FF6600"/>
<circle cx="441.6" cy="606.7" r="1.00" fill="#FF6600"/>
<circle cx="534.0" cy="600.1" r="1.80" fill="#3AA8C8"/>
<circle cx="545.2" cy="601.8" r="1.80" fill="#3AA8C8"/>
<circle cx="544.2" cy="604.7" r="1.50" fill="#3AA8C8"/>
<circle cx="552.8" cy="606.6" r="1.80" fill="#3AA8C8"/>
<circle cx="471.6" cy="609.7" r="1.00" fill="#3AA8C8"/>
<circle cx="609.1" cy="557.1" r="1.80" fill="#FF6600"/>
<circle cx="588.1" cy="565.2" r="1.30" fill="#FF6600"/>
<circle cx="581.5" cy="572.2" r="0.80" fill="#FF6600"/>
<circle cx="589.4" cy="578.1" r="3.00" fill="#FF6600"/>
<circle cx="591.4" cy="585.0" r="2.00" fill="#FF6600"/>
<circle cx="611.7" cy="584.5" r="2.40" fill="#FF6600"/>
<circle cx="615.1" cy="580.6" r="1.20" fill="#FF6600"/>
<circle cx="622.1" cy="592.4" r="3.60" fill="#FF6600"/>
<circle cx="565.9" cy="580.8" r="1.00" fill="#FF6600"/>
<circle cx="567.9" cy="585.7" r="1.50" fill="#FF6600"/>
<circle cx="586.4" cy="593.7" r="1.50" fill="#FF6600"/>
<circle cx="602.0" cy="588.7" r="1.30" fill="#FF6600"/>
<circle cx="592.3" cy="597.1" r="1.50" fill="#FF6600"/>
<circle cx="599.5" cy="602.1" r="1.50" fill="#FF6600"/>
<circle cx="631.4" cy="590.4" r="0.80" fill="#FF6600"/>
<circle cx="555.8" cy="592.0" r="2.00" fill="#FF6600"/>
<circle cx="576.8" cy="593.4" r="1.50" fill="#3AA8C8"/>
<circle cx="572.6" cy="601.6" r="1.80" fill="#3AA8C8"/>
<circle cx="561.7" cy="596.2" r="1.20" fill="#3AA8C8"/>
<circle cx="607.0" cy="600.8" r="1.80" fill="#3AA8C8"/>
<circle cx="615.1" cy="599.6" r="1.50" fill="#3AA8C8"/>
<circle cx="618.8" cy="599.1" r="1.20" fill="#3AA8C8"/>
<circle cx="626.3" cy="597.9" r="1.20" fill="#3AA8C8"/>
<circle cx="635.9" cy="599.9" r="1.30" fill="#3AA8C8"/>
<circle cx="642.3" cy="604.6" r="1.20" fill="#3AA8C8"/>
<circle cx="649.3" cy="598.8" r="1.20" fill="#3AA8C8"/>
<circle cx="658.2" cy="608.8" r="1.00" fill="#3AA8C8"/>
<circle cx="526.4" cy="599.0" r="1.80" fill="#FF6600"/>
<circle cx="545.1" cy="601.3" r="1.60" fill="#3AA8C8"/>
<circle cx="544.3" cy="604.2" r="1.60" fill="#3AA8C8"/>
<circle cx="553.3" cy="606.8" r="1.80" fill="#3AA8C8"/>
<circle cx="572.6" cy="601.3" r="1.60" fill="#3AA8C8"/>
<circle cx="577.0" cy="593.1" r="1.30" fill="#3AA8C8"/>
<circle cx="561.8" cy="596.0" r="1.00" fill="#3AA8C8"/>
<circle cx="575.5" cy="605.6" r="0.80" fill="#3AA8C8"/>
<circle cx="589.5" cy="577.9" r="2.50" fill="#FF6600"/>
<circle cx="591.2" cy="584.9" r="1.80" fill="#FF6600"/>
<circle cx="586.3" cy="593.7" r="1.30" fill="#FF6600"/>
<circle cx="591.8" cy="597.2" r="1.30" fill="#FF6600"/>
<circle cx="567.9" cy="586.1" r="1.30" fill="#FF6600"/>
<circle cx="584.8" cy="586.1" r="0.80" fill="#FF6600"/>
<circle cx="566.1" cy="580.8" r="0.80" fill="#FF6600"/>
<circle cx="420.0" cy="608.0" r="1.20" fill="#3AA8C8"/>
<circle cx="432.0" cy="609.0" r="1.00" fill="#3AA8C8"/>
<circle cx="446.0" cy="607.5" r="1.20" fill="#3AA8C8"/>
<circle cx="460.0" cy="609.5" r="1.00" fill="#3AA8C8"/>
<circle cx="490.0" cy="608.0" r="1.20" fill="#3AA8C8"/>
<circle cx="505.0" cy="609.0" r="1.00" fill="#3AA8C8"/>
<circle cx="520.0" cy="606.5" r="1.20" fill="#3AA8C8"/>
<circle cx="507.4" cy="571.2" r="9.60" fill="#FF6600"/>
<circle cx="594.1" cy="550.4" r="10.90" fill="#3AA8C8"/>
<circle cx="509.4" cy="602.0" r="5.70" fill="#3AA8C8"/>
<text x="497.9" y="574.3" font-size="9" font-family="Liberation Sans, sans-serif" font-weight="normal" text-anchor="start" textLength="19.1" lengthAdjust="spacingAndGlyphs" fill="#000" stroke="#000" stroke-width="0.25">China</text>
<text x="584.4" y="553.6" font-size="9" font-family="Liberation Sans, sans-serif" font-weight="normal" text-anchor="start" textLength="19.6" lengthAdjust="spacingAndGlyphs" fill="#000" stroke="#000" stroke-width="0.25">China</text>
<text x="501.8" y="605.2" font-size="8.5" font-family="Liberation Sans, sans-serif" font-weight="normal" text-anchor="start" textLength="15.8" lengthAdjust="spacingAndGlyphs" fill="#000" stroke="#000" stroke-width="0.25">India</text>
<text x="422.0" y="609.3" font-size="8" font-family="Liberation Sans, sans-serif" font-weight="normal" text-anchor="start" textLength="16.1" lengthAdjust="spacingAndGlyphs" fill="#000" stroke="#000" stroke-width="0.25">India</text>
<text x="465.7" y="583.0" font-size="8.8" font-family="Liberation Sans, sans-serif" font-weight="normal" text-anchor="start" textLength="40.0" lengthAdjust="spacingAndGlyphs" fill="#111" stroke="#111" stroke-width="0.12">Bangladesh</text>
<text x="431.6" y="589.2" font-size="8.8" font-family="Liberation Sans, sans-serif" font-weight="normal" text-anchor="start" textLength="30.7" lengthAdjust="spacingAndGlyphs" fill="#111" stroke="#111" stroke-width="0.12">Viet Nam</text>
<text x="519.9" y="581.7" font-size="8.8" font-family="Liberation Sans, sans-serif" font-weight="normal" text-anchor="start" textLength="30.5" lengthAdjust="spacingAndGlyphs" fill="#111" stroke="#111" stroke-width="0.12">Viet Nam</text>
<text x="644.0" y="595.7" font-size="8.8" font-family="Liberation Sans, sans-serif" font-weight="normal" text-anchor="start" textLength="20.1" lengthAdjust="spacingAndGlyphs" fill="#111" stroke="#111" stroke-width="0.12">Korea</text>
<text x="625.2" y="607.1" font-size="8.8" font-family="Liberation Sans, sans-serif" font-weight="normal" text-anchor="start" textLength="14.6" lengthAdjust="spacingAndGlyphs" fill="#111" stroke="#111" stroke-width="0.12">USA</text>
<circle cx="232.8" cy="81.6" r="19.30" fill="#FF6600"/>
<text x="232.8" y="84.8" font-size="7.5" font-family="Liberation Sans, sans-serif" font-weight="normal" text-anchor="middle" textLength="17.0" lengthAdjust="spacingAndGlyphs" fill="#000" stroke="#000" stroke-width="0.3">China</text>
<circle cx="560.0" cy="82.7" r="19.20" fill="#FF6600"/>
<text x="560.0" y="85.9" font-size="7.5" font-family="Liberation Sans, sans-serif" font-weight="normal" text-anchor="middle" textLength="17.0" lengthAdjust="spacingAndGlyphs" fill="#000" stroke="#000" stroke-width="0.3">China</text>
<circle cx="253.4" cy="387.8" r="21.70" fill="#3AA8C8"/>
<text x="253.4" y="391.3" font-size="8" font-family="Liberation Sans, sans-serif" font-weight="normal" text-anchor="middle" textLength="19.4" lengthAdjust="spacingAndGlyphs" fill="#000" stroke="#000" stroke-width="0.3">China</text>
</svg></body></html>
